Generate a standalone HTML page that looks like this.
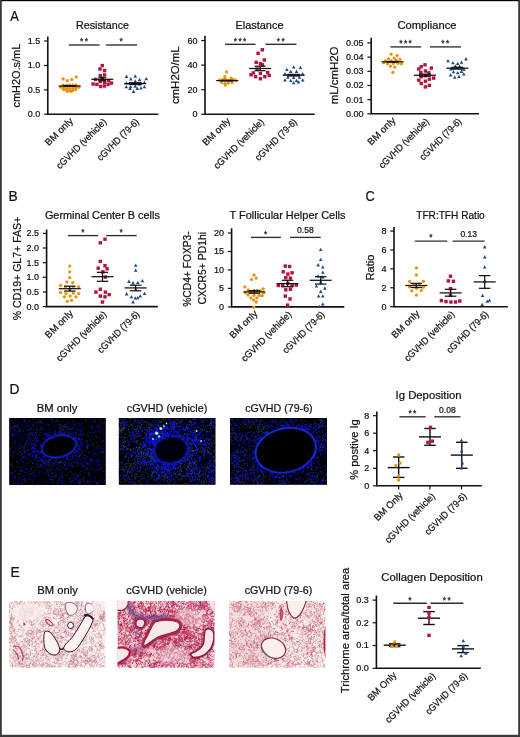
<!DOCTYPE html>
<html lang="en"><head><meta charset="utf-8"><title>Figure</title>
<style>html,body{margin:0;padding:0;background:#fff}svg{display:block;will-change:transform}</style></head>
<body>
<svg width="520" height="737" viewBox="0 0 520 737" font-family='"Liberation Sans", sans-serif' fill="#111">
<style>text{stroke:#111;stroke-width:0.22px;paint-order:stroke fill}</style>
<defs><filter id="b1" x="-20%" y="-20%" width="140%" height="140%"><feGaussianBlur stdDeviation="0.6"/></filter><filter id="b2" x="-20%" y="-20%" width="140%" height="140%"><feGaussianBlur stdDeviation="1.2"/></filter><filter id="b0" x="-5%" y="-5%" width="110%" height="110%"><feGaussianBlur stdDeviation="0.35"/></filter></defs>
<text x="10.2" y="21.1" font-size="13.8" text-anchor="start" textLength="8.6" lengthAdjust="spacingAndGlyphs">A</text>
<text x="8.6" y="201.2" font-size="13.8" text-anchor="start">B</text>
<text x="365.6" y="201.3" font-size="13.8" text-anchor="start" textLength="9.2" lengthAdjust="spacingAndGlyphs">C</text>
<text x="9.6" y="394.2" font-size="13.8" text-anchor="start">D</text>
<text x="10.4" y="576.8" font-size="13.8" text-anchor="start">E</text>
<path d="M47.8 37.3V114.2H157.5" fill="none" stroke="#111" stroke-width="1.6" stroke-linecap="square"/>
<line x1="44" y1="41" x2="47.8" y2="41" stroke="#111" stroke-width="1.2"/>
<text x="40.2" y="43.9" font-size="9.0" text-anchor="end">1.5</text>
<line x1="44" y1="65.5" x2="47.8" y2="65.5" stroke="#111" stroke-width="1.2"/>
<text x="40.2" y="68.4" font-size="9.0" text-anchor="end">1.0</text>
<line x1="44" y1="89.9" x2="47.8" y2="89.9" stroke="#111" stroke-width="1.2"/>
<text x="40.2" y="92.8" font-size="9.0" text-anchor="end">0.5</text>
<line x1="44" y1="114.2" x2="47.8" y2="114.2" stroke="#111" stroke-width="1.2"/>
<text x="40.2" y="117.1" font-size="9.0" text-anchor="end">0.0</text>
<text x="102.5" y="28.6" font-size="10.6" text-anchor="middle" textLength="53" lengthAdjust="spacingAndGlyphs">Resistance</text>
<text x="20.2" y="75.6" font-size="10.6" text-anchor="middle" transform="rotate(-90 20.2 75.6)" textLength="63.8" lengthAdjust="spacingAndGlyphs">cmH2O.s/mL</text>
<circle cx="63.1" cy="79" r="1.65" fill="#E8930C"/>
<circle cx="67.25" cy="80.6" r="1.65" fill="#E8930C"/>
<circle cx="71.9" cy="79.4" r="1.65" fill="#E8930C"/>
<circle cx="76.25" cy="76.9" r="1.65" fill="#E8930C"/>
<circle cx="63.2" cy="85.2" r="1.65" fill="#E8930C"/>
<circle cx="66.4" cy="85.2" r="1.65" fill="#E8930C"/>
<circle cx="69.6" cy="85.2" r="1.65" fill="#E8930C"/>
<circle cx="72.8" cy="85.2" r="1.65" fill="#E8930C"/>
<circle cx="76" cy="85.2" r="1.65" fill="#E8930C"/>
<circle cx="60.6" cy="87.13" r="1.65" fill="#E8930C"/>
<circle cx="63.6" cy="87.78" r="1.65" fill="#E8930C"/>
<circle cx="66.7" cy="88.17" r="1.65" fill="#E8930C"/>
<circle cx="69.7" cy="88.3" r="1.65" fill="#E8930C"/>
<circle cx="72.8" cy="88.16" r="1.65" fill="#E8930C"/>
<circle cx="75.8" cy="87.78" r="1.65" fill="#E8930C"/>
<circle cx="78.8" cy="87.13" r="1.65" fill="#E8930C"/>
<circle cx="63.6" cy="89.49" r="1.65" fill="#E8930C"/>
<circle cx="66.7" cy="90.33" r="1.65" fill="#E8930C"/>
<circle cx="69.7" cy="90.6" r="1.65" fill="#E8930C"/>
<circle cx="72.8" cy="90.31" r="1.65" fill="#E8930C"/>
<circle cx="75.8" cy="89.49" r="1.65" fill="#E8930C"/>
<circle cx="67.8" cy="91.3" r="1.65" fill="#E8930C"/>
<circle cx="71.4" cy="91.3" r="1.65" fill="#E8930C"/>
<rect x="100.55" y="63.9" width="3.4" height="3.4" fill="#B5123A"/>
<rect x="98.3" y="67.3" width="3.4" height="3.4" fill="#B5123A"/>
<rect x="102.9" y="68.9" width="3.4" height="3.4" fill="#B5123A"/>
<rect x="98.55" y="73.9" width="3.4" height="3.4" fill="#B5123A"/>
<rect x="102.9" y="73.3" width="3.4" height="3.4" fill="#B5123A"/>
<rect x="93.9" y="77.7" width="3.4" height="3.4" fill="#B5123A"/>
<rect x="98.55" y="79.8" width="3.4" height="3.4" fill="#B5123A"/>
<rect x="102.9" y="80.55" width="3.4" height="3.4" fill="#B5123A"/>
<rect x="107.05" y="78.9" width="3.4" height="3.4" fill="#B5123A"/>
<rect x="91.4" y="82.3" width="3.4" height="3.4" fill="#B5123A"/>
<rect x="95.2" y="82.7" width="3.4" height="3.4" fill="#B5123A"/>
<rect x="106.4" y="82.7" width="3.4" height="3.4" fill="#B5123A"/>
<rect x="109.8" y="81.4" width="3.4" height="3.4" fill="#B5123A"/>
<rect x="98.9" y="84.8" width="3.4" height="3.4" fill="#B5123A"/>
<rect x="102.7" y="84.3" width="3.4" height="3.4" fill="#B5123A"/>
<rect x="100.7" y="76.5" width="3.4" height="3.4" fill="#B5123A"/>
<path d="M126.5 74.6L128.3 77.9L124.7 77.9Z" fill="#1E4A8C"/>
<path d="M135.25 74.35L137.05 77.65L133.45 77.65Z" fill="#1E4A8C"/>
<path d="M130.9 77.1L132.7 80.4L129.1 80.4Z" fill="#1E4A8C"/>
<path d="M139.6 77.85L141.4 81.15L137.8 81.15Z" fill="#1E4A8C"/>
<path d="M146.25 76.85L148.05 80.15L144.45 80.15Z" fill="#1E4A8C"/>
<path d="M135.25 79.35L137.05 82.65L133.45 82.65Z" fill="#1E4A8C"/>
<path d="M126.5 81.2L128.3 84.5L124.7 84.5Z" fill="#1E4A8C"/>
<path d="M144.4 80.6L146.2 83.9L142.6 83.9Z" fill="#1E4A8C"/>
<path d="M139.6 82.1L141.4 85.4L137.8 85.4Z" fill="#1E4A8C"/>
<path d="M126.25 85L128.05 88.3L124.45 88.3Z" fill="#1E4A8C"/>
<path d="M130.6 85L132.4 88.3L128.8 88.3Z" fill="#1E4A8C"/>
<path d="M135.25 84.35L137.05 87.65L133.45 87.65Z" fill="#1E4A8C"/>
<path d="M144.4 85L146.2 88.3L142.6 88.3Z" fill="#1E4A8C"/>
<path d="M130 86.6L131.8 89.9L128.2 89.9Z" fill="#1E4A8C"/>
<path d="M137.25 86.6L139.05 89.9L135.45 89.9Z" fill="#1E4A8C"/>
<path d="M140.9 86.2L142.7 89.5L139.1 89.5Z" fill="#1E4A8C"/>
<path d="M133.5 89.6L135.3 92.9L131.7 92.9Z" fill="#1E4A8C"/>
<line x1="58.7" y1="86" x2="80.7" y2="86" stroke="#111" stroke-width="1.25"/>
<line x1="63.2" y1="85.7" x2="76.2" y2="85.7" stroke="#111" stroke-width="1.25"/>
<line x1="63.2" y1="86.3" x2="76.2" y2="86.3" stroke="#111" stroke-width="1.25"/>
<line x1="69.7" y1="85.7" x2="69.7" y2="86.3" stroke="#111" stroke-width="1.25"/>
<line x1="91.3" y1="79.3" x2="113.3" y2="79.3" stroke="#111" stroke-width="1.25"/>
<line x1="98.3" y1="77.8" x2="106.3" y2="77.8" stroke="#111" stroke-width="1.25"/>
<line x1="98.3" y1="80.7" x2="106.3" y2="80.7" stroke="#111" stroke-width="1.25"/>
<line x1="102.3" y1="77.8" x2="102.3" y2="80.7" stroke="#111" stroke-width="1.25"/>
<line x1="124.2" y1="83.6" x2="146.2" y2="83.6" stroke="#111" stroke-width="1.25"/>
<line x1="128.7" y1="82.7" x2="141.7" y2="82.7" stroke="#111" stroke-width="1.25"/>
<line x1="128.7" y1="84.5" x2="141.7" y2="84.5" stroke="#111" stroke-width="1.25"/>
<line x1="135.2" y1="82.7" x2="135.2" y2="84.5" stroke="#111" stroke-width="1.25"/>
<line x1="68.7" y1="45" x2="99.6" y2="45" stroke="#2e2e2e" stroke-width="1.35"/>
<text x="84.65" y="44.3" font-size="8.4" text-anchor="middle" letter-spacing="1.4" style="stroke:#2a2a2a;stroke-width:0.3px" fill="#2a2a2a">**</text>
<line x1="105.8" y1="45" x2="137" y2="45" stroke="#2e2e2e" stroke-width="1.35"/>
<text x="121.9" y="44.3" font-size="8.4" text-anchor="middle" letter-spacing="1.4" style="stroke:#2a2a2a;stroke-width:0.3px" fill="#2a2a2a">*</text>
<text x="73.6" y="121.5" font-size="9.6" text-anchor="end" transform="rotate(-45 73.6 121.5)" textLength="35" lengthAdjust="spacingAndGlyphs">BM only</text>
<text x="107.1" y="122.5" font-size="9.6" text-anchor="end" transform="rotate(-45 107.1 122.5)" textLength="66.5" lengthAdjust="spacingAndGlyphs">cGVHD (vehicle)</text>
<text x="139.6" y="122.5" font-size="9.6" text-anchor="end" transform="rotate(-45 139.6 122.5)" textLength="54.8" lengthAdjust="spacingAndGlyphs">cGVHD (79-6)</text>
<path d="M205 36.6V114.3H314" fill="none" stroke="#111" stroke-width="1.6" stroke-linecap="square"/>
<line x1="201.2" y1="40.6" x2="205" y2="40.6" stroke="#111" stroke-width="1.2"/>
<text x="197.4" y="43.5" font-size="9.0" text-anchor="end">60</text>
<line x1="201.2" y1="65.1" x2="205" y2="65.1" stroke="#111" stroke-width="1.2"/>
<text x="197.4" y="68" font-size="9.0" text-anchor="end">40</text>
<line x1="201.2" y1="89.7" x2="205" y2="89.7" stroke="#111" stroke-width="1.2"/>
<text x="197.4" y="92.6" font-size="9.0" text-anchor="end">20</text>
<line x1="201.2" y1="114.3" x2="205" y2="114.3" stroke="#111" stroke-width="1.2"/>
<text x="197.4" y="117.2" font-size="9.0" text-anchor="end">0</text>
<text x="259.5" y="28.6" font-size="10.6" text-anchor="middle" textLength="48" lengthAdjust="spacingAndGlyphs">Elastance</text>
<text x="178.8" y="75.2" font-size="10.6" text-anchor="middle" transform="rotate(-90 178.8 75.2)" textLength="57.8" lengthAdjust="spacingAndGlyphs">cmH2O/mL</text>
<circle cx="226.7" cy="71.9" r="1.65" fill="#E8930C"/>
<circle cx="224.8" cy="76.7" r="1.65" fill="#E8930C"/>
<circle cx="231.2" cy="78.1" r="1.65" fill="#E8930C"/>
<circle cx="219.6" cy="80.2" r="1.65" fill="#E8930C"/>
<circle cx="222.5" cy="79.6" r="1.65" fill="#E8930C"/>
<circle cx="225.4" cy="79.2" r="1.65" fill="#E8930C"/>
<circle cx="228.3" cy="80.6" r="1.65" fill="#E8930C"/>
<circle cx="231.2" cy="80" r="1.65" fill="#E8930C"/>
<circle cx="234" cy="79.6" r="1.65" fill="#E8930C"/>
<circle cx="236" cy="80.6" r="1.65" fill="#E8930C"/>
<circle cx="221.5" cy="82.5" r="1.65" fill="#E8930C"/>
<circle cx="225" cy="83.5" r="1.65" fill="#E8930C"/>
<circle cx="228.3" cy="83" r="1.65" fill="#E8930C"/>
<circle cx="232.1" cy="82.5" r="1.65" fill="#E8930C"/>
<circle cx="225.4" cy="85" r="1.65" fill="#E8930C"/>
<rect x="260.6" y="48.1" width="3.4" height="3.4" fill="#B5123A"/>
<rect x="256.4" y="51.6" width="3.4" height="3.4" fill="#B5123A"/>
<rect x="262.7" y="58.3" width="3.4" height="3.4" fill="#B5123A"/>
<rect x="254.5" y="60.6" width="3.4" height="3.4" fill="#B5123A"/>
<rect x="258.7" y="62" width="3.4" height="3.4" fill="#B5123A"/>
<rect x="260.6" y="63.1" width="3.4" height="3.4" fill="#B5123A"/>
<rect x="255.4" y="67.3" width="3.4" height="3.4" fill="#B5123A"/>
<rect x="251.6" y="71.2" width="3.4" height="3.4" fill="#B5123A"/>
<rect x="258.7" y="71.8" width="3.4" height="3.4" fill="#B5123A"/>
<rect x="266" y="70.8" width="3.4" height="3.4" fill="#B5123A"/>
<rect x="249.3" y="73.1" width="3.4" height="3.4" fill="#B5123A"/>
<rect x="267.5" y="73.7" width="3.4" height="3.4" fill="#B5123A"/>
<rect x="253.9" y="75" width="3.4" height="3.4" fill="#B5123A"/>
<rect x="263.1" y="75" width="3.4" height="3.4" fill="#B5123A"/>
<rect x="258.7" y="77" width="3.4" height="3.4" fill="#B5123A"/>
<path d="M293.7 65.2L295.5 68.5L291.9 68.5Z" fill="#1E4A8C"/>
<path d="M300.4 65.8L302.2 69.1L298.6 69.1Z" fill="#1E4A8C"/>
<path d="M286.9 67.7L288.7 71L285.1 71Z" fill="#1E4A8C"/>
<path d="M290.8 69.6L292.6 72.9L289 72.9Z" fill="#1E4A8C"/>
<path d="M296.5 69.6L298.3 72.9L294.7 72.9Z" fill="#1E4A8C"/>
<path d="M285 71.9L286.8 75.2L283.2 75.2Z" fill="#1E4A8C"/>
<path d="M302.7 71.9L304.5 75.2L300.9 75.2Z" fill="#1E4A8C"/>
<path d="M287.9 75.4L289.7 78.7L286.1 78.7Z" fill="#1E4A8C"/>
<path d="M293.7 75.8L295.5 79.1L291.9 79.1Z" fill="#1E4A8C"/>
<path d="M299.4 75.4L301.2 78.7L297.6 78.7Z" fill="#1E4A8C"/>
<path d="M285 78.3L286.8 81.6L283.2 81.6Z" fill="#1E4A8C"/>
<path d="M290.8 78.7L292.6 82L289 82Z" fill="#1E4A8C"/>
<path d="M296.5 78.7L298.3 82L294.7 82Z" fill="#1E4A8C"/>
<path d="M302.7 78.3L304.5 81.6L300.9 81.6Z" fill="#1E4A8C"/>
<path d="M293.7 81L295.5 84.3L291.9 84.3Z" fill="#1E4A8C"/>
<path d="M298.5 80.2L300.3 83.5L296.7 83.5Z" fill="#1E4A8C"/>
<line x1="216.2" y1="80.6" x2="238.2" y2="80.6" stroke="#111" stroke-width="1.25"/>
<line x1="221.2" y1="80.3" x2="233.2" y2="80.3" stroke="#111" stroke-width="1.25"/>
<line x1="221.2" y1="80.9" x2="233.2" y2="80.9" stroke="#111" stroke-width="1.25"/>
<line x1="227.2" y1="80.3" x2="227.2" y2="80.9" stroke="#111" stroke-width="1.25"/>
<line x1="249.1" y1="68.5" x2="271.1" y2="68.5" stroke="#111" stroke-width="1.25"/>
<line x1="254.6" y1="66.2" x2="265.6" y2="66.2" stroke="#111" stroke-width="1.25"/>
<line x1="254.6" y1="70.7" x2="265.6" y2="70.7" stroke="#111" stroke-width="1.25"/>
<line x1="260.1" y1="66.2" x2="260.1" y2="70.7" stroke="#111" stroke-width="1.25"/>
<line x1="282.7" y1="75.2" x2="304.7" y2="75.2" stroke="#111" stroke-width="1.25"/>
<line x1="287.2" y1="74.4" x2="300.2" y2="74.4" stroke="#111" stroke-width="1.25"/>
<line x1="287.2" y1="76" x2="300.2" y2="76" stroke="#111" stroke-width="1.25"/>
<line x1="293.7" y1="74.4" x2="293.7" y2="76" stroke="#111" stroke-width="1.25"/>
<line x1="225" y1="44.3" x2="255.6" y2="44.3" stroke="#2e2e2e" stroke-width="1.35"/>
<text x="240.8" y="43.6" font-size="8.4" text-anchor="middle" letter-spacing="1.4" style="stroke:#2a2a2a;stroke-width:0.3px" fill="#2a2a2a">***</text>
<line x1="265.4" y1="44.3" x2="296.5" y2="44.3" stroke="#2e2e2e" stroke-width="1.35"/>
<text x="281.45" y="43.6" font-size="8.4" text-anchor="middle" letter-spacing="1.4" style="stroke:#2a2a2a;stroke-width:0.3px" fill="#2a2a2a">**</text>
<text x="230.9" y="121.6" font-size="9.6" text-anchor="end" transform="rotate(-45 230.9 121.6)" textLength="35" lengthAdjust="spacingAndGlyphs">BM only</text>
<text x="264.6" y="122.6" font-size="9.6" text-anchor="end" transform="rotate(-45 264.6 122.6)" textLength="66.5" lengthAdjust="spacingAndGlyphs">cGVHD (vehicle)</text>
<text x="297.6" y="122.6" font-size="9.6" text-anchor="end" transform="rotate(-45 297.6 122.6)" textLength="54.8" lengthAdjust="spacingAndGlyphs">cGVHD (79-6)</text>
<path d="M371.2 38.6V113.8H478.2" fill="none" stroke="#111" stroke-width="1.6" stroke-linecap="square"/>
<line x1="367.4" y1="42.9" x2="371.2" y2="42.9" stroke="#111" stroke-width="1.2"/>
<text x="363.6" y="45.8" font-size="9.0" text-anchor="end">0.05</text>
<line x1="367.4" y1="57.1" x2="371.2" y2="57.1" stroke="#111" stroke-width="1.2"/>
<text x="363.6" y="60" font-size="9.0" text-anchor="end">0.04</text>
<line x1="367.4" y1="71.3" x2="371.2" y2="71.3" stroke="#111" stroke-width="1.2"/>
<text x="363.6" y="74.2" font-size="9.0" text-anchor="end">0.03</text>
<line x1="367.4" y1="85.5" x2="371.2" y2="85.5" stroke="#111" stroke-width="1.2"/>
<text x="363.6" y="88.4" font-size="9.0" text-anchor="end">0.02</text>
<line x1="367.4" y1="99.7" x2="371.2" y2="99.7" stroke="#111" stroke-width="1.2"/>
<text x="363.6" y="102.6" font-size="9.0" text-anchor="end">0.01</text>
<line x1="367.4" y1="113.8" x2="371.2" y2="113.8" stroke="#111" stroke-width="1.2"/>
<text x="363.6" y="116.7" font-size="9.0" text-anchor="end">0.00</text>
<text x="427" y="28.6" font-size="10.6" text-anchor="middle" textLength="59" lengthAdjust="spacingAndGlyphs">Compliance</text>
<text x="338.4" y="75.4" font-size="10.6" text-anchor="middle" transform="rotate(-90 338.4 75.4)" textLength="57.8" lengthAdjust="spacingAndGlyphs">mL/cmH2O</text>
<circle cx="391" cy="54.2" r="1.65" fill="#E8930C"/>
<circle cx="397.1" cy="55.6" r="1.65" fill="#E8930C"/>
<circle cx="394.2" cy="58.1" r="1.65" fill="#E8930C"/>
<circle cx="388.5" cy="58.8" r="1.65" fill="#E8930C"/>
<circle cx="400" cy="59.4" r="1.65" fill="#E8930C"/>
<circle cx="385.6" cy="60.8" r="1.65" fill="#E8930C"/>
<circle cx="391.3" cy="60.8" r="1.65" fill="#E8930C"/>
<circle cx="396.2" cy="60.4" r="1.65" fill="#E8930C"/>
<circle cx="383.7" cy="62.7" r="1.65" fill="#E8930C"/>
<circle cx="387.5" cy="63.7" r="1.65" fill="#E8930C"/>
<circle cx="393.3" cy="63.3" r="1.65" fill="#E8930C"/>
<circle cx="398.1" cy="63.3" r="1.65" fill="#E8930C"/>
<circle cx="401.5" cy="63.7" r="1.65" fill="#E8930C"/>
<circle cx="390.4" cy="66.2" r="1.65" fill="#E8930C"/>
<circle cx="394.8" cy="67.1" r="1.65" fill="#E8930C"/>
<circle cx="392.9" cy="72.5" r="1.65" fill="#E8930C"/>
<rect x="423.3" y="63.1" width="3.4" height="3.4" fill="#B5123A"/>
<rect x="419.5" y="65" width="3.4" height="3.4" fill="#B5123A"/>
<rect x="417.1" y="67.3" width="3.4" height="3.4" fill="#B5123A"/>
<rect x="429.6" y="66.4" width="3.4" height="3.4" fill="#B5123A"/>
<rect x="423.7" y="69.3" width="3.4" height="3.4" fill="#B5123A"/>
<rect x="419.1" y="70.8" width="3.4" height="3.4" fill="#B5123A"/>
<rect x="427.1" y="71.2" width="3.4" height="3.4" fill="#B5123A"/>
<rect x="423.7" y="74.1" width="3.4" height="3.4" fill="#B5123A"/>
<rect x="419.5" y="75" width="3.4" height="3.4" fill="#B5123A"/>
<rect x="427.7" y="77.5" width="3.4" height="3.4" fill="#B5123A"/>
<rect x="432" y="76.4" width="3.4" height="3.4" fill="#B5123A"/>
<rect x="417.1" y="78.5" width="3.4" height="3.4" fill="#B5123A"/>
<rect x="423.7" y="79.5" width="3.4" height="3.4" fill="#B5123A"/>
<rect x="419.5" y="81.8" width="3.4" height="3.4" fill="#B5123A"/>
<rect x="427.7" y="83.7" width="3.4" height="3.4" fill="#B5123A"/>
<rect x="423.7" y="85.2" width="3.4" height="3.4" fill="#B5123A"/>
<path d="M466 57.1L467.8 60.4L464.2 60.4Z" fill="#1E4A8C"/>
<path d="M448 58.9L449.8 62.2L446.2 62.2Z" fill="#1E4A8C"/>
<path d="M452.9 61L454.7 64.3L451.1 64.3Z" fill="#1E4A8C"/>
<path d="M457.7 61.8L459.5 65.1L455.9 65.1Z" fill="#1E4A8C"/>
<path d="M461.5 60.4L463.3 63.7L459.7 63.7Z" fill="#1E4A8C"/>
<path d="M455.4 64.3L457.2 67.6L453.6 67.6Z" fill="#1E4A8C"/>
<path d="M459.6 64.6L461.4 67.9L457.8 67.9Z" fill="#1E4A8C"/>
<path d="M451 67.1L452.8 70.4L449.2 70.4Z" fill="#1E4A8C"/>
<path d="M464 67.7L465.8 71L462.2 71Z" fill="#1E4A8C"/>
<path d="M453.5 70L455.3 73.3L451.7 73.3Z" fill="#1E4A8C"/>
<path d="M461.5 69.6L463.3 72.9L459.7 72.9Z" fill="#1E4A8C"/>
<path d="M457.7 71L459.5 74.3L455.9 74.3Z" fill="#1E4A8C"/>
<path d="M450.6 73.3L452.4 76.6L448.8 76.6Z" fill="#1E4A8C"/>
<path d="M463.8 72.3L465.6 75.6L462 75.6Z" fill="#1E4A8C"/>
<path d="M454.8 75.4L456.6 78.7L453 78.7Z" fill="#1E4A8C"/>
<path d="M459 74.8L460.8 78.1L457.2 78.1Z" fill="#1E4A8C"/>
<line x1="381.6" y1="61.8" x2="403.6" y2="61.8" stroke="#111" stroke-width="1.25"/>
<line x1="386.6" y1="61.5" x2="398.6" y2="61.5" stroke="#111" stroke-width="1.25"/>
<line x1="386.6" y1="62.1" x2="398.6" y2="62.1" stroke="#111" stroke-width="1.25"/>
<line x1="392.6" y1="61.5" x2="392.6" y2="62.1" stroke="#111" stroke-width="1.25"/>
<line x1="414" y1="75.2" x2="436" y2="75.2" stroke="#111" stroke-width="1.25"/>
<line x1="419" y1="74.2" x2="431" y2="74.2" stroke="#111" stroke-width="1.25"/>
<line x1="419" y1="76.2" x2="431" y2="76.2" stroke="#111" stroke-width="1.25"/>
<line x1="425" y1="74.2" x2="425" y2="76.2" stroke="#111" stroke-width="1.25"/>
<line x1="446.4" y1="68.2" x2="468.4" y2="68.2" stroke="#111" stroke-width="1.25"/>
<line x1="451.4" y1="67.3" x2="463.4" y2="67.3" stroke="#111" stroke-width="1.25"/>
<line x1="451.4" y1="69.1" x2="463.4" y2="69.1" stroke="#111" stroke-width="1.25"/>
<line x1="457.4" y1="67.3" x2="457.4" y2="69.1" stroke="#111" stroke-width="1.25"/>
<line x1="390.4" y1="46.9" x2="421.2" y2="46.9" stroke="#2e2e2e" stroke-width="1.35"/>
<text x="406.3" y="46.2" font-size="8.4" text-anchor="middle" letter-spacing="1.4" style="stroke:#2a2a2a;stroke-width:0.3px" fill="#2a2a2a">***</text>
<line x1="430" y1="46.9" x2="461" y2="46.9" stroke="#2e2e2e" stroke-width="1.35"/>
<text x="446" y="46.2" font-size="8.4" text-anchor="middle" letter-spacing="1.4" style="stroke:#2a2a2a;stroke-width:0.3px" fill="#2a2a2a">**</text>
<text x="396.1" y="121.1" font-size="9.6" text-anchor="end" transform="rotate(-45 396.1 121.1)" textLength="35" lengthAdjust="spacingAndGlyphs">BM only</text>
<text x="429.6" y="122.1" font-size="9.6" text-anchor="end" transform="rotate(-45 429.6 122.1)" textLength="66.5" lengthAdjust="spacingAndGlyphs">cGVHD (vehicle)</text>
<text x="462.1" y="122.1" font-size="9.6" text-anchor="end" transform="rotate(-45 462.1 122.1)" textLength="54.8" lengthAdjust="spacingAndGlyphs">cGVHD (79-6)</text>
<path d="M46.6 230.4V306.6H157" fill="none" stroke="#111" stroke-width="1.6" stroke-linecap="square"/>
<line x1="42.8" y1="233.4" x2="46.6" y2="233.4" stroke="#111" stroke-width="1.2"/>
<text x="39" y="236.3" font-size="9.0" text-anchor="end">2.5</text>
<line x1="42.8" y1="248" x2="46.6" y2="248" stroke="#111" stroke-width="1.2"/>
<text x="39" y="250.9" font-size="9.0" text-anchor="end">2.0</text>
<line x1="42.8" y1="262.7" x2="46.6" y2="262.7" stroke="#111" stroke-width="1.2"/>
<text x="39" y="265.6" font-size="9.0" text-anchor="end">1.5</text>
<line x1="42.8" y1="277.3" x2="46.6" y2="277.3" stroke="#111" stroke-width="1.2"/>
<text x="39" y="280.2" font-size="9.0" text-anchor="end">1.0</text>
<line x1="42.8" y1="292" x2="46.6" y2="292" stroke="#111" stroke-width="1.2"/>
<text x="39" y="294.9" font-size="9.0" text-anchor="end">0.5</text>
<line x1="42.8" y1="306.6" x2="46.6" y2="306.6" stroke="#111" stroke-width="1.2"/>
<text x="39" y="309.5" font-size="9.0" text-anchor="end">0.0</text>
<text x="102.4" y="218.6" font-size="10.6" text-anchor="middle" textLength="115" lengthAdjust="spacingAndGlyphs">Germinal Center B cells</text>
<text x="20.6" y="268.5" font-size="10.6" text-anchor="middle" transform="rotate(-90 20.6 268.5)" textLength="103.5" lengthAdjust="spacingAndGlyphs">% CD19+ GL7+ FAS+</text>
<circle cx="69.7" cy="266.1" r="1.65" fill="#E8930C"/>
<circle cx="69.7" cy="271.8" r="1.65" fill="#E8930C"/>
<circle cx="69.7" cy="277.7" r="1.65" fill="#E8930C"/>
<circle cx="66.9" cy="281.9" r="1.65" fill="#E8930C"/>
<circle cx="72.8" cy="282.6" r="1.65" fill="#E8930C"/>
<circle cx="60.6" cy="285.5" r="1.65" fill="#E8930C"/>
<circle cx="65.4" cy="286.8" r="1.65" fill="#E8930C"/>
<circle cx="73.3" cy="286.8" r="1.65" fill="#E8930C"/>
<circle cx="78.6" cy="286.8" r="1.65" fill="#E8930C"/>
<circle cx="69.7" cy="289.3" r="1.65" fill="#E8930C"/>
<circle cx="60.6" cy="292.5" r="1.65" fill="#E8930C"/>
<circle cx="65.9" cy="293.6" r="1.65" fill="#E8930C"/>
<circle cx="73.3" cy="293.2" r="1.65" fill="#E8930C"/>
<circle cx="78.6" cy="293.6" r="1.65" fill="#E8930C"/>
<circle cx="64.4" cy="296.8" r="1.65" fill="#E8930C"/>
<circle cx="70.1" cy="296.1" r="1.65" fill="#E8930C"/>
<circle cx="76" cy="296.8" r="1.65" fill="#E8930C"/>
<circle cx="67.3" cy="301.4" r="1.65" fill="#E8930C"/>
<circle cx="71.6" cy="300.4" r="1.65" fill="#E8930C"/>
<rect x="103.3" y="237.5" width="3.4" height="3.4" fill="#B5123A"/>
<rect x="98.6" y="241.1" width="3.4" height="3.4" fill="#B5123A"/>
<rect x="98.6" y="259.7" width="3.4" height="3.4" fill="#B5123A"/>
<rect x="103.3" y="264" width="3.4" height="3.4" fill="#B5123A"/>
<rect x="96.5" y="266.5" width="3.4" height="3.4" fill="#B5123A"/>
<rect x="105.4" y="267.1" width="3.4" height="3.4" fill="#B5123A"/>
<rect x="101.2" y="270.1" width="3.4" height="3.4" fill="#B5123A"/>
<rect x="103.7" y="275.4" width="3.4" height="3.4" fill="#B5123A"/>
<rect x="98.6" y="287.6" width="3.4" height="3.4" fill="#B5123A"/>
<rect x="94.2" y="290.4" width="3.4" height="3.4" fill="#B5123A"/>
<rect x="103.7" y="290.4" width="3.4" height="3.4" fill="#B5123A"/>
<rect x="98.6" y="294.4" width="3.4" height="3.4" fill="#B5123A"/>
<rect x="107.5" y="292.9" width="3.4" height="3.4" fill="#B5123A"/>
<rect x="103.3" y="295.1" width="3.4" height="3.4" fill="#B5123A"/>
<rect x="100.8" y="300.3" width="3.4" height="3.4" fill="#B5123A"/>
<path d="M135.7 263.5L137.5 266.8L133.9 266.8Z" fill="#1E4A8C"/>
<path d="M135.7 268.4L137.5 271.7L133.9 271.7Z" fill="#1E4A8C"/>
<path d="M128.9 279.6L130.7 282.9L127.1 282.9Z" fill="#1E4A8C"/>
<path d="M142.4 279L144.2 282.3L140.6 282.3Z" fill="#1E4A8C"/>
<path d="M133.1 281.1L134.9 284.4L131.3 284.4Z" fill="#1E4A8C"/>
<path d="M137.8 280.7L139.6 284L136 284Z" fill="#1E4A8C"/>
<path d="M135.7 287.4L137.5 290.7L133.9 290.7Z" fill="#1E4A8C"/>
<path d="M126.6 292.1L128.4 295.4L124.8 295.4Z" fill="#1E4A8C"/>
<path d="M144.6 291.7L146.4 295L142.8 295Z" fill="#1E4A8C"/>
<path d="M131.4 294.9L133.2 298.2L129.6 298.2Z" fill="#1E4A8C"/>
<path d="M140.3 294.2L142.1 297.5L138.5 297.5Z" fill="#1E4A8C"/>
<path d="M135.3 296.3L137.1 299.6L133.5 299.6Z" fill="#1E4A8C"/>
<path d="M137.8 295.9L139.6 299.2L136 299.2Z" fill="#1E4A8C"/>
<path d="M133.1 300.1L134.9 303.4L131.3 303.4Z" fill="#1E4A8C"/>
<line x1="58.8" y1="288.7" x2="80.8" y2="288.7" stroke="#111" stroke-width="1.25"/>
<line x1="64.05" y1="286.2" x2="75.55" y2="286.2" stroke="#111" stroke-width="1.25"/>
<line x1="64.05" y1="291.1" x2="75.55" y2="291.1" stroke="#111" stroke-width="1.25"/>
<line x1="69.8" y1="286.2" x2="69.8" y2="291.1" stroke="#111" stroke-width="1.25"/>
<line x1="91.5" y1="276.7" x2="113.5" y2="276.7" stroke="#111" stroke-width="1.25"/>
<line x1="96.75" y1="272.3" x2="108.25" y2="272.3" stroke="#111" stroke-width="1.25"/>
<line x1="96.75" y1="281.3" x2="108.25" y2="281.3" stroke="#111" stroke-width="1.25"/>
<line x1="102.5" y1="272.3" x2="102.5" y2="281.3" stroke="#111" stroke-width="1.25"/>
<line x1="124.6" y1="287.9" x2="146.6" y2="287.9" stroke="#111" stroke-width="1.25"/>
<line x1="129.85" y1="285.2" x2="141.35" y2="285.2" stroke="#111" stroke-width="1.25"/>
<line x1="129.85" y1="290.8" x2="141.35" y2="290.8" stroke="#111" stroke-width="1.25"/>
<line x1="135.6" y1="285.2" x2="135.6" y2="290.8" stroke="#111" stroke-width="1.25"/>
<line x1="67.8" y1="235.6" x2="98.2" y2="235.6" stroke="#2e2e2e" stroke-width="1.35"/>
<text x="83.5" y="234.9" font-size="8.4" text-anchor="middle" letter-spacing="1.4" style="stroke:#2a2a2a;stroke-width:0.3px" fill="#2a2a2a">*</text>
<line x1="106.2" y1="235.6" x2="136.7" y2="235.6" stroke="#2e2e2e" stroke-width="1.35"/>
<text x="121.95" y="234.9" font-size="8.4" text-anchor="middle" letter-spacing="1.4" style="stroke:#2a2a2a;stroke-width:0.3px" fill="#2a2a2a">*</text>
<text x="73.6" y="313.9" font-size="9.6" text-anchor="end" transform="rotate(-45 73.6 313.9)" textLength="35" lengthAdjust="spacingAndGlyphs">BM only</text>
<text x="107.1" y="314.9" font-size="9.6" text-anchor="end" transform="rotate(-45 107.1 314.9)" textLength="66.5" lengthAdjust="spacingAndGlyphs">cGVHD (vehicle)</text>
<text x="140.1" y="314.9" font-size="9.6" text-anchor="end" transform="rotate(-45 140.1 314.9)" textLength="54.8" lengthAdjust="spacingAndGlyphs">cGVHD (79-6)</text>
<path d="M231.6 229V306.9H343.5" fill="none" stroke="#111" stroke-width="1.6" stroke-linecap="square"/>
<line x1="227.8" y1="233" x2="231.6" y2="233" stroke="#111" stroke-width="1.2"/>
<text x="224" y="235.9" font-size="9.0" text-anchor="end">20</text>
<line x1="227.8" y1="251.5" x2="231.6" y2="251.5" stroke="#111" stroke-width="1.2"/>
<text x="224" y="254.4" font-size="9.0" text-anchor="end">15</text>
<line x1="227.8" y1="269.9" x2="231.6" y2="269.9" stroke="#111" stroke-width="1.2"/>
<text x="224" y="272.8" font-size="9.0" text-anchor="end">10</text>
<line x1="227.8" y1="288.4" x2="231.6" y2="288.4" stroke="#111" stroke-width="1.2"/>
<text x="224" y="291.3" font-size="9.0" text-anchor="end">5</text>
<line x1="227.8" y1="306.9" x2="231.6" y2="306.9" stroke="#111" stroke-width="1.2"/>
<text x="224" y="309.8" font-size="9.0" text-anchor="end">0</text>
<text x="287.5" y="218.6" font-size="10.6" text-anchor="middle" textLength="116" lengthAdjust="spacingAndGlyphs">T Follicular Helper Cells</text>
<text x="191.4" y="269" font-size="10.6" text-anchor="middle" transform="rotate(-90 191.4 269)" textLength="75.5" lengthAdjust="spacingAndGlyphs">%CD4+ FOXP3-</text>
<text x="205.8" y="268.2" font-size="10.6" text-anchor="middle" transform="rotate(-90 205.8 268.2)" textLength="72.6" lengthAdjust="spacingAndGlyphs">CXCR5+ PD1hi</text>
<circle cx="254" cy="275" r="1.65" fill="#E8930C"/>
<circle cx="251.5" cy="279.4" r="1.65" fill="#E8930C"/>
<circle cx="256.2" cy="278.1" r="1.65" fill="#E8930C"/>
<circle cx="244.9" cy="286.8" r="1.65" fill="#E8930C"/>
<circle cx="263.1" cy="288.9" r="1.65" fill="#E8930C"/>
<circle cx="248.1" cy="290" r="1.65" fill="#E8930C"/>
<circle cx="254" cy="290.4" r="1.65" fill="#E8930C"/>
<circle cx="257.2" cy="290.4" r="1.65" fill="#E8930C"/>
<circle cx="260.4" cy="290.8" r="1.65" fill="#E8930C"/>
<circle cx="245.6" cy="292.9" r="1.65" fill="#E8930C"/>
<circle cx="250.9" cy="292.5" r="1.65" fill="#E8930C"/>
<circle cx="263.6" cy="292.9" r="1.65" fill="#E8930C"/>
<circle cx="248.1" cy="295.1" r="1.65" fill="#E8930C"/>
<circle cx="254" cy="295.3" r="1.65" fill="#E8930C"/>
<circle cx="259.3" cy="295.3" r="1.65" fill="#E8930C"/>
<circle cx="262.1" cy="295.7" r="1.65" fill="#E8930C"/>
<circle cx="250.9" cy="297.8" r="1.65" fill="#E8930C"/>
<circle cx="256.8" cy="297.8" r="1.65" fill="#E8930C"/>
<circle cx="253.6" cy="299.9" r="1.65" fill="#E8930C"/>
<circle cx="256.2" cy="302" r="1.65" fill="#E8930C"/>
<circle cx="254" cy="307.3" r="1.65" fill="#E8930C"/>
<rect x="283.6" y="264.4" width="3.4" height="3.4" fill="#B5123A"/>
<rect x="287.9" y="264.8" width="3.4" height="3.4" fill="#B5123A"/>
<rect x="281.5" y="270.1" width="3.4" height="3.4" fill="#B5123A"/>
<rect x="290.4" y="271.1" width="3.4" height="3.4" fill="#B5123A"/>
<rect x="286.2" y="272.4" width="3.4" height="3.4" fill="#B5123A"/>
<rect x="284.1" y="276" width="3.4" height="3.4" fill="#B5123A"/>
<rect x="288.7" y="276.4" width="3.4" height="3.4" fill="#B5123A"/>
<rect x="286.2" y="281.7" width="3.4" height="3.4" fill="#B5123A"/>
<rect x="276.7" y="283.8" width="3.4" height="3.4" fill="#B5123A"/>
<rect x="280.9" y="283.8" width="3.4" height="3.4" fill="#B5123A"/>
<rect x="290.4" y="283.8" width="3.4" height="3.4" fill="#B5123A"/>
<rect x="294.6" y="283.4" width="3.4" height="3.4" fill="#B5123A"/>
<rect x="284.1" y="288.1" width="3.4" height="3.4" fill="#B5123A"/>
<rect x="288.7" y="287.6" width="3.4" height="3.4" fill="#B5123A"/>
<rect x="283.6" y="294.4" width="3.4" height="3.4" fill="#B5123A"/>
<rect x="288.3" y="297.2" width="3.4" height="3.4" fill="#B5123A"/>
<rect x="285.8" y="303.5" width="3.4" height="3.4" fill="#B5123A"/>
<path d="M320.7 247.7L322.5 251L318.9 251Z" fill="#1E4A8C"/>
<path d="M320.7 257.8L322.5 261.1L318.9 261.1Z" fill="#1E4A8C"/>
<path d="M318.1 263.1L319.9 266.4L316.3 266.4Z" fill="#1E4A8C"/>
<path d="M322.8 265.2L324.6 268.5L321 268.5Z" fill="#1E4A8C"/>
<path d="M322.8 270.5L324.6 273.8L321 273.8Z" fill="#1E4A8C"/>
<path d="M318.1 274.3L319.9 277.6L316.3 277.6Z" fill="#1E4A8C"/>
<path d="M322.8 275.2L324.6 278.5L321 278.5Z" fill="#1E4A8C"/>
<path d="M320.7 280.1L322.5 283.4L318.9 283.4Z" fill="#1E4A8C"/>
<path d="M316.4 284.3L318.2 287.6L314.6 287.6Z" fill="#1E4A8C"/>
<path d="M324.9 286.4L326.7 289.7L323.1 289.7Z" fill="#1E4A8C"/>
<path d="M320.7 289.6L322.5 292.9L318.9 292.9Z" fill="#1E4A8C"/>
<path d="M322.8 294.2L324.6 297.5L321 297.5Z" fill="#1E4A8C"/>
<path d="M318.6 294.2L320.4 297.5L316.8 297.5Z" fill="#1E4A8C"/>
<path d="M322.8 302.3L324.6 305.6L321 305.6Z" fill="#1E4A8C"/>
<path d="M319.6 304.8L321.4 308.1L317.8 308.1Z" fill="#1E4A8C"/>
<line x1="243.3" y1="291.9" x2="265.3" y2="291.9" stroke="#111" stroke-width="1.25"/>
<line x1="248.55" y1="290.6" x2="260.05" y2="290.6" stroke="#111" stroke-width="1.25"/>
<line x1="248.55" y1="293.2" x2="260.05" y2="293.2" stroke="#111" stroke-width="1.25"/>
<line x1="254.3" y1="290.6" x2="254.3" y2="293.2" stroke="#111" stroke-width="1.25"/>
<line x1="276.5" y1="283.6" x2="298.5" y2="283.6" stroke="#111" stroke-width="1.25"/>
<line x1="281.75" y1="280.3" x2="293.25" y2="280.3" stroke="#111" stroke-width="1.25"/>
<line x1="281.75" y1="286.7" x2="293.25" y2="286.7" stroke="#111" stroke-width="1.25"/>
<line x1="287.5" y1="280.3" x2="287.5" y2="286.7" stroke="#111" stroke-width="1.25"/>
<line x1="309.7" y1="280.3" x2="331.7" y2="280.3" stroke="#111" stroke-width="1.25"/>
<line x1="314.95" y1="276.7" x2="326.45" y2="276.7" stroke="#111" stroke-width="1.25"/>
<line x1="314.95" y1="284.1" x2="326.45" y2="284.1" stroke="#111" stroke-width="1.25"/>
<line x1="320.7" y1="276.7" x2="320.7" y2="284.1" stroke="#111" stroke-width="1.25"/>
<line x1="250.9" y1="237.4" x2="280.9" y2="237.4" stroke="#2e2e2e" stroke-width="1.35"/>
<text x="266.4" y="236.7" font-size="8.4" text-anchor="middle" letter-spacing="1.4" style="stroke:#2a2a2a;stroke-width:0.3px" fill="#2a2a2a">*</text>
<line x1="290" y1="237.4" x2="320.7" y2="237.4" stroke="#2e2e2e" stroke-width="1.35"/>
<text x="305.35" y="233.3" font-size="8.5" text-anchor="middle">0.58</text>
<text x="258.1" y="314.2" font-size="9.6" text-anchor="end" transform="rotate(-45 258.1 314.2)" textLength="35" lengthAdjust="spacingAndGlyphs">BM only</text>
<text x="292.1" y="315.2" font-size="9.6" text-anchor="end" transform="rotate(-45 292.1 315.2)" textLength="66.5" lengthAdjust="spacingAndGlyphs">cGVHD (vehicle)</text>
<text x="325.1" y="315.2" font-size="9.6" text-anchor="end" transform="rotate(-45 325.1 315.2)" textLength="54.8" lengthAdjust="spacingAndGlyphs">cGVHD (79-6)</text>
<path d="M394 227.8V306.7H507" fill="none" stroke="#111" stroke-width="1.6" stroke-linecap="square"/>
<line x1="390.2" y1="231.1" x2="394" y2="231.1" stroke="#111" stroke-width="1.2"/>
<text x="386.4" y="234" font-size="9.0" text-anchor="end">8</text>
<line x1="390.2" y1="250" x2="394" y2="250" stroke="#111" stroke-width="1.2"/>
<text x="386.4" y="252.9" font-size="9.0" text-anchor="end">6</text>
<line x1="390.2" y1="268.9" x2="394" y2="268.9" stroke="#111" stroke-width="1.2"/>
<text x="386.4" y="271.8" font-size="9.0" text-anchor="end">4</text>
<line x1="390.2" y1="287.8" x2="394" y2="287.8" stroke="#111" stroke-width="1.2"/>
<text x="386.4" y="290.7" font-size="9.0" text-anchor="end">2</text>
<line x1="390.2" y1="306.7" x2="394" y2="306.7" stroke="#111" stroke-width="1.2"/>
<text x="386.4" y="309.6" font-size="9.0" text-anchor="end">0</text>
<text x="450.5" y="218.6" font-size="10.6" text-anchor="middle" textLength="68.5" lengthAdjust="spacingAndGlyphs">TFR:TFH Ratio</text>
<text x="373.6" y="267.6" font-size="10.6" text-anchor="middle" transform="rotate(-90 373.6 267.6)" textLength="26" lengthAdjust="spacingAndGlyphs">Ratio</text>
<circle cx="416.4" cy="267.8" r="1.65" fill="#E8930C"/>
<circle cx="416.4" cy="275" r="1.65" fill="#E8930C"/>
<circle cx="409.6" cy="281.3" r="1.65" fill="#E8930C"/>
<circle cx="423.4" cy="281.3" r="1.65" fill="#E8930C"/>
<circle cx="413.9" cy="284.1" r="1.65" fill="#E8930C"/>
<circle cx="419.2" cy="284.1" r="1.65" fill="#E8930C"/>
<circle cx="409.6" cy="286.8" r="1.65" fill="#E8930C"/>
<circle cx="423.4" cy="287.2" r="1.65" fill="#E8930C"/>
<circle cx="416.4" cy="288.3" r="1.65" fill="#E8930C"/>
<circle cx="411.8" cy="290.8" r="1.65" fill="#E8930C"/>
<circle cx="421.3" cy="290.4" r="1.65" fill="#E8930C"/>
<circle cx="416.4" cy="295.1" r="1.65" fill="#E8930C"/>
<rect x="448.8" y="274.5" width="3.4" height="3.4" fill="#B5123A"/>
<rect x="446.6" y="279.2" width="3.4" height="3.4" fill="#B5123A"/>
<rect x="451.7" y="279.6" width="3.4" height="3.4" fill="#B5123A"/>
<rect x="448.8" y="287" width="3.4" height="3.4" fill="#B5123A"/>
<rect x="448.8" y="293.6" width="3.4" height="3.4" fill="#B5123A"/>
<rect x="439.7" y="298.9" width="3.4" height="3.4" fill="#B5123A"/>
<rect x="444.3" y="299.9" width="3.4" height="3.4" fill="#B5123A"/>
<rect x="449.2" y="300.3" width="3.4" height="3.4" fill="#B5123A"/>
<rect x="453.8" y="300.3" width="3.4" height="3.4" fill="#B5123A"/>
<rect x="458.1" y="299.3" width="3.4" height="3.4" fill="#B5123A"/>
<path d="M484.7 245.1L486.5 248.4L482.9 248.4Z" fill="#1E4A8C"/>
<path d="M484.7 255.1L486.5 258.4L482.9 258.4Z" fill="#1E4A8C"/>
<path d="M484.7 265.2L486.5 268.5L482.9 268.5Z" fill="#1E4A8C"/>
<path d="M484.7 279L486.5 282.3L482.9 282.3Z" fill="#1E4A8C"/>
<path d="M482.6 293.8L484.4 297.1L480.8 297.1Z" fill="#1E4A8C"/>
<path d="M489.4 298.5L491.2 301.8L487.6 301.8Z" fill="#1E4A8C"/>
<path d="M487.3 299.5L489.1 302.8L485.5 302.8Z" fill="#1E4A8C"/>
<path d="M482.2 302.7L484 306L480.4 306Z" fill="#1E4A8C"/>
<line x1="405.3" y1="285.5" x2="427.3" y2="285.5" stroke="#111" stroke-width="1.25"/>
<line x1="410.55" y1="283.4" x2="422.05" y2="283.4" stroke="#111" stroke-width="1.25"/>
<line x1="410.55" y1="287.5" x2="422.05" y2="287.5" stroke="#111" stroke-width="1.25"/>
<line x1="416.3" y1="283.4" x2="416.3" y2="287.5" stroke="#111" stroke-width="1.25"/>
<line x1="439.6" y1="292.9" x2="461.6" y2="292.9" stroke="#111" stroke-width="1.25"/>
<line x1="444.85" y1="289.3" x2="456.35" y2="289.3" stroke="#111" stroke-width="1.25"/>
<line x1="444.85" y1="296.2" x2="456.35" y2="296.2" stroke="#111" stroke-width="1.25"/>
<line x1="450.6" y1="289.3" x2="450.6" y2="296.2" stroke="#111" stroke-width="1.25"/>
<line x1="473.7" y1="281.9" x2="495.7" y2="281.9" stroke="#111" stroke-width="1.25"/>
<line x1="478.95" y1="275.6" x2="490.45" y2="275.6" stroke="#111" stroke-width="1.25"/>
<line x1="478.95" y1="288.3" x2="490.45" y2="288.3" stroke="#111" stroke-width="1.25"/>
<line x1="484.7" y1="275.6" x2="484.7" y2="288.3" stroke="#111" stroke-width="1.25"/>
<line x1="414.9" y1="241.1" x2="447.3" y2="241.1" stroke="#2e2e2e" stroke-width="1.35"/>
<text x="431.6" y="240.4" font-size="8.4" text-anchor="middle" letter-spacing="1.4" style="stroke:#2a2a2a;stroke-width:0.3px" fill="#2a2a2a">*</text>
<line x1="452.6" y1="241.1" x2="484.7" y2="241.1" stroke="#2e2e2e" stroke-width="1.35"/>
<text x="468.65" y="237" font-size="8.5" text-anchor="middle">0.13</text>
<text x="420.1" y="314" font-size="9.6" text-anchor="end" transform="rotate(-45 420.1 314)" textLength="35" lengthAdjust="spacingAndGlyphs">BM only</text>
<text x="455.1" y="315" font-size="9.6" text-anchor="end" transform="rotate(-45 455.1 315)" textLength="66.5" lengthAdjust="spacingAndGlyphs">cGVHD (vehicle)</text>
<text x="489.1" y="315" font-size="9.6" text-anchor="end" transform="rotate(-45 489.1 315)" textLength="54.8" lengthAdjust="spacingAndGlyphs">cGVHD (79-6)</text>
<path d="M376.8 412.4V485.8H481" fill="none" stroke="#111" stroke-width="1.6" stroke-linecap="square"/>
<line x1="373" y1="415.7" x2="376.8" y2="415.7" stroke="#111" stroke-width="1.2"/>
<text x="369.2" y="418.6" font-size="9.0" text-anchor="end">8</text>
<line x1="373" y1="433.2" x2="376.8" y2="433.2" stroke="#111" stroke-width="1.2"/>
<text x="369.2" y="436.1" font-size="9.0" text-anchor="end">6</text>
<line x1="373" y1="450.7" x2="376.8" y2="450.7" stroke="#111" stroke-width="1.2"/>
<text x="369.2" y="453.6" font-size="9.0" text-anchor="end">4</text>
<line x1="373" y1="468.3" x2="376.8" y2="468.3" stroke="#111" stroke-width="1.2"/>
<text x="369.2" y="471.2" font-size="9.0" text-anchor="end">2</text>
<line x1="373" y1="485.8" x2="376.8" y2="485.8" stroke="#111" stroke-width="1.2"/>
<text x="369.2" y="488.7" font-size="9.0" text-anchor="end">0</text>
<text x="428.6" y="398.8" font-size="10.6" text-anchor="middle" textLength="66" lengthAdjust="spacingAndGlyphs">Ig Deposition</text>
<text x="358.2" y="449.5" font-size="10.6" text-anchor="middle" transform="rotate(-90 358.2 449.5)" textLength="60.5" lengthAdjust="spacingAndGlyphs">% postive Ig</text>
<line x1="387.7" y1="467.6" x2="409.7" y2="467.6" stroke="#111" stroke-width="1.4"/>
<line x1="392.95" y1="457" x2="404.45" y2="457" stroke="#111" stroke-width="1.4"/>
<line x1="392.95" y1="477.4" x2="404.45" y2="477.4" stroke="#111" stroke-width="1.4"/>
<line x1="398.7" y1="457" x2="398.7" y2="477.4" stroke="#111" stroke-width="1.4"/>
<line x1="419" y1="436.9" x2="441" y2="436.9" stroke="#111" stroke-width="1.4"/>
<line x1="424.25" y1="428.5" x2="435.75" y2="428.5" stroke="#111" stroke-width="1.4"/>
<line x1="424.25" y1="445.3" x2="435.75" y2="445.3" stroke="#111" stroke-width="1.4"/>
<line x1="430" y1="428.5" x2="430" y2="445.3" stroke="#111" stroke-width="1.4"/>
<line x1="450.8" y1="455.1" x2="472.8" y2="455.1" stroke="#111" stroke-width="1.4"/>
<line x1="456.05" y1="442.3" x2="467.55" y2="442.3" stroke="#111" stroke-width="1.4"/>
<line x1="456.05" y1="468.3" x2="467.55" y2="468.3" stroke="#111" stroke-width="1.4"/>
<line x1="461.8" y1="442.3" x2="461.8" y2="468.3" stroke="#111" stroke-width="1.4"/>
<circle cx="398.7" cy="455" r="1.65" fill="#E8930C"/>
<circle cx="400.1" cy="463" r="1.65" fill="#E8930C"/>
<circle cx="395.8" cy="465.7" r="1.65" fill="#E8930C"/>
<circle cx="398.7" cy="476" r="1.65" fill="#E8930C"/>
<circle cx="398.7" cy="480" r="1.65" fill="#E8930C"/>
<rect x="428.8" y="425.7" width="3.4" height="3.4" fill="#B5123A"/>
<rect x="430.6" y="439.5" width="3.4" height="3.4" fill="#B5123A"/>
<rect x="426.2" y="440.6" width="3.4" height="3.4" fill="#B5123A"/>
<path d="M461.5 438.5L463.3 441.8L459.7 441.8Z" fill="#1E4A8C"/>
<path d="M461.5 449.1L463.3 452.4L459.7 452.4Z" fill="#1E4A8C"/>
<path d="M462.3 461.1L464.1 464.4L460.5 464.4Z" fill="#1E4A8C"/>
<path d="M461.5 466.3L463.3 469.6L459.7 469.6Z" fill="#1E4A8C"/>
<line x1="399.4" y1="416.8" x2="425.7" y2="416.8" stroke="#2e2e2e" stroke-width="1.35"/>
<text x="413.05" y="416.1" font-size="8.4" text-anchor="middle" letter-spacing="1.4" style="stroke:#2a2a2a;stroke-width:0.3px" fill="#2a2a2a">**</text>
<line x1="434.3" y1="416.8" x2="460.4" y2="416.8" stroke="#2e2e2e" stroke-width="1.35"/>
<text x="447.35" y="412.7" font-size="8.5" text-anchor="middle">0.08</text>
<line x1="398.7" y1="485.8" x2="398.7" y2="489.4" stroke="#111" stroke-width="1.2"/>
<text x="403.5" y="495.8" font-size="9.6" text-anchor="end" transform="rotate(-45 403.5 495.8)" textLength="36.5" lengthAdjust="spacingAndGlyphs">BM Only</text>
<line x1="429.9" y1="485.8" x2="429.9" y2="489.4" stroke="#111" stroke-width="1.2"/>
<text x="435.7" y="496.8" font-size="9.6" text-anchor="end" transform="rotate(-45 435.7 496.8)" textLength="66.5" lengthAdjust="spacingAndGlyphs">cGVHD (vehicle)</text>
<line x1="461.5" y1="485.8" x2="461.5" y2="489.4" stroke="#111" stroke-width="1.2"/>
<text x="467.3" y="496.8" font-size="9.6" text-anchor="end" transform="rotate(-45 467.3 496.8)" textLength="54.8" lengthAdjust="spacingAndGlyphs">cGVHD (79-6)</text>
<path d="M376.4 596.3V668.3H480" fill="none" stroke="#111" stroke-width="1.6" stroke-linecap="square"/>
<line x1="372.6" y1="600.1" x2="376.4" y2="600.1" stroke="#111" stroke-width="1.2"/>
<text x="368.8" y="603" font-size="9.0" text-anchor="end">0.3</text>
<line x1="372.6" y1="622.8" x2="376.4" y2="622.8" stroke="#111" stroke-width="1.2"/>
<text x="368.8" y="625.7" font-size="9.0" text-anchor="end">0.2</text>
<line x1="372.6" y1="645.5" x2="376.4" y2="645.5" stroke="#111" stroke-width="1.2"/>
<text x="368.8" y="648.4" font-size="9.0" text-anchor="end">0.1</text>
<line x1="372.6" y1="668.3" x2="376.4" y2="668.3" stroke="#111" stroke-width="1.2"/>
<text x="368.8" y="671.2" font-size="9.0" text-anchor="end">0.0</text>
<text x="432" y="580.8" font-size="10.6" text-anchor="middle" textLength="101.5" lengthAdjust="spacingAndGlyphs">Collagen Deposition</text>
<text x="349" y="630.4" font-size="10.6" text-anchor="middle" transform="rotate(-90 349 630.4)" textLength="125.5" lengthAdjust="spacingAndGlyphs">Trichrome area/total area</text>
<line x1="383.7" y1="645.2" x2="405.7" y2="645.2" stroke="#111" stroke-width="1.4"/>
<line x1="388.95" y1="643.8" x2="400.45" y2="643.8" stroke="#111" stroke-width="1.4"/>
<line x1="388.95" y1="646.6" x2="400.45" y2="646.6" stroke="#111" stroke-width="1.4"/>
<line x1="394.7" y1="643.8" x2="394.7" y2="646.6" stroke="#111" stroke-width="1.4"/>
<line x1="418" y1="618.2" x2="440" y2="618.2" stroke="#111" stroke-width="1.4"/>
<line x1="423.25" y1="611.6" x2="434.75" y2="611.6" stroke="#111" stroke-width="1.4"/>
<line x1="423.25" y1="624.5" x2="434.75" y2="624.5" stroke="#111" stroke-width="1.4"/>
<line x1="429" y1="611.6" x2="429" y2="624.5" stroke="#111" stroke-width="1.4"/>
<line x1="452" y1="648.9" x2="474" y2="648.9" stroke="#111" stroke-width="1.4"/>
<line x1="457.25" y1="645.6" x2="468.75" y2="645.6" stroke="#111" stroke-width="1.4"/>
<line x1="457.25" y1="652.6" x2="468.75" y2="652.6" stroke="#111" stroke-width="1.4"/>
<line x1="463" y1="645.6" x2="463" y2="652.6" stroke="#111" stroke-width="1.4"/>
<circle cx="394.7" cy="642" r="1.65" fill="#E8930C"/>
<circle cx="392" cy="646.3" r="1.65" fill="#E8930C"/>
<circle cx="396.5" cy="646.3" r="1.65" fill="#E8930C"/>
<rect x="427.3" y="605.7" width="3.4" height="3.4" fill="#B5123A"/>
<rect x="427.3" y="611.5" width="3.4" height="3.4" fill="#B5123A"/>
<rect x="427.3" y="615.9" width="3.4" height="3.4" fill="#B5123A"/>
<rect x="427.3" y="633.6" width="3.4" height="3.4" fill="#B5123A"/>
<path d="M463.3 639L465.1 642.3L461.5 642.3Z" fill="#1E4A8C"/>
<path d="M463.3 644.5L465.1 647.8L461.5 647.8Z" fill="#1E4A8C"/>
<path d="M465.8 651.5L467.6 654.8L464 654.8Z" fill="#1E4A8C"/>
<path d="M461.2 654L463 657.3L459.4 657.3Z" fill="#1E4A8C"/>
<line x1="393.2" y1="603.2" x2="426.8" y2="603.2" stroke="#2e2e2e" stroke-width="1.35"/>
<text x="410.5" y="602.5" font-size="8.4" text-anchor="middle" letter-spacing="1.4" style="stroke:#2a2a2a;stroke-width:0.3px" fill="#2a2a2a">*</text>
<line x1="430.5" y1="603.2" x2="463.4" y2="603.2" stroke="#2e2e2e" stroke-width="1.35"/>
<text x="447.45" y="602.5" font-size="8.4" text-anchor="middle" letter-spacing="1.4" style="stroke:#2a2a2a;stroke-width:0.3px" fill="#2a2a2a">**</text>
<text x="397.2" y="675.6" font-size="9.6" text-anchor="end" transform="rotate(-45 397.2 675.6)" textLength="36.5" lengthAdjust="spacingAndGlyphs">BM Only</text>
<text x="436" y="676.6" font-size="9.6" text-anchor="end" transform="rotate(-45 436 676.6)" textLength="66.5" lengthAdjust="spacingAndGlyphs">cGVHD (vehicle)</text>
<text x="468" y="676.6" font-size="9.6" text-anchor="end" transform="rotate(-45 468 676.6)" textLength="54.8" lengthAdjust="spacingAndGlyphs">cGVHD (79-6)</text>
<text x="57" y="411.6" font-size="10.6" text-anchor="middle" textLength="40.5" lengthAdjust="spacingAndGlyphs">BM only</text>
<text x="57.6" y="593.9" font-size="10.6" text-anchor="middle" textLength="40.5" lengthAdjust="spacingAndGlyphs">BM only</text>
<text x="167" y="411.6" font-size="10.6" text-anchor="middle" textLength="80.5" lengthAdjust="spacingAndGlyphs">cGVHD (vehicle)</text>
<text x="166.6" y="593.9" font-size="10.6" text-anchor="middle" textLength="80.5" lengthAdjust="spacingAndGlyphs">cGVHD (vehicle)</text>
<text x="278.9" y="411.6" font-size="10.6" text-anchor="middle" textLength="67.5" lengthAdjust="spacingAndGlyphs">cGVHD (79-6)</text>
<text x="278.5" y="593.9" font-size="10.6" text-anchor="middle" textLength="67.5" lengthAdjust="spacingAndGlyphs">cGVHD (79-6)</text>
<defs>
<filter id="fn1" x="0" y="0" width="100%" height="100%" color-interpolation-filters="sRGB"><feTurbulence type="turbulence" baseFrequency="0.2" numOctaves="3" seed="7"/><feColorMatrix values="0 0 0 0 0.03  0 0 0 0 0.04  0 0 0 0 1  -8 0 0 0 1.25"/></filter>
<filter id="fn2" x="0" y="0" width="100%" height="100%" color-interpolation-filters="sRGB"><feTurbulence type="turbulence" baseFrequency="0.19" numOctaves="3" seed="11"/><feColorMatrix values="0 0 0 0 0.03  0 0 0 0 0.04  0 0 0 0 1  -8 0 0 0 1.62"/></filter>
<filter id="fn3" x="0" y="0" width="100%" height="100%" color-interpolation-filters="sRGB"><feTurbulence type="turbulence" baseFrequency="0.2" numOctaves="3" seed="23"/><feColorMatrix values="0 0 0 0 0.03  0 0 0 0 0.04  0 0 0 0 1  -8 0 0 0 1.48"/></filter>
<filter id="fs1" x="0" y="0" width="100%" height="100%" color-interpolation-filters="sRGB"><feTurbulence type="fractalNoise" baseFrequency="0.42" numOctaves="2" seed="4"/><feColorMatrix values="0 0 0 0 0.03  0 0 0 0 0.04  0 0 0 0 1  0 14 0 0 -8.7"/></filter>
<filter id="fs2" x="0" y="0" width="100%" height="100%" color-interpolation-filters="sRGB"><feTurbulence type="fractalNoise" baseFrequency="0.40" numOctaves="2" seed="12"/><feColorMatrix values="0 0 0 0 0.03  0 0 0 0 0.04  0 0 0 0 1  0 14 0 0 -7.7"/></filter>
<filter id="fg1" x="0" y="0" width="100%" height="100%" color-interpolation-filters="sRGB"><feTurbulence type="turbulence" baseFrequency="0.22" numOctaves="3" seed="14"/><feColorMatrix values="0 0 0 0 0.24  0 0 0 0 0.42  0 0 0 0 0.08  -9 0 0 0 1.3"/></filter>
<filter id="fg2" x="0" y="0" width="100%" height="100%" color-interpolation-filters="sRGB"><feTurbulence type="turbulence" baseFrequency="0.2" numOctaves="3" seed="31"/><feColorMatrix values="0 0 0 0 0.3  0 0 0 0 0.52  0 0 0 0 0.12  -9 0 0 0 1.55"/></filter>
</defs>
<clipPath id="cf1"><rect x="9.2" y="418" width="96.6" height="67"/></clipPath>
<rect x="9.2" y="418" width="96.6" height="67" fill="#010104"/>
<g clip-path="url(#cf1)">
<rect x="-22.5" y="371.5" width="160" height="160" filter="url(#fg1)" transform="rotate(50 57.5 451.5)" opacity="0.5"/>
<rect x="-22.5" y="371.5" width="160" height="160" filter="url(#fs1)" transform="rotate(27 57.5 451.5)" opacity="0.85"/>
<clipPath id="cd1_0"><ellipse cx="56.5" cy="448" rx="26" ry="16" transform="rotate(-13 56.5 448)" /></clipPath>
<g clip-path="url(#cd1_0)">
<rect x="-22.5" y="371.5" width="160" height="160" filter="url(#fs2)" transform="rotate(63 57.5 451.5)" opacity="0.8"/>
</g>
<g fill="none" stroke="#5a7a1c" stroke-width="0.6" opacity="0.55" stroke-dasharray="1.6 1.4 0.8 2" filter="url(#b0)"><ellipse cx="65.34" cy="431.05" rx="4.91" ry="5.71" transform="rotate(119 65.34 431.05)"/><ellipse cx="13.89" cy="451.74" rx="4.01" ry="4.64" transform="rotate(124 13.89 451.74)"/><ellipse cx="76.09" cy="432.23" rx="4.93" ry="3.62" transform="rotate(49 76.09 432.23)"/><ellipse cx="24.76" cy="447.83" rx="3.84" ry="3.06" transform="rotate(83 24.76 447.83)"/><ellipse cx="32.27" cy="471.01" rx="3.56" ry="2.6" transform="rotate(119 32.27 471.01)"/><ellipse cx="38.59" cy="425.42" rx="4.56" ry="4.74" transform="rotate(170 38.59 425.42)"/><ellipse cx="92.17" cy="435.91" rx="4.46" ry="3.63" transform="rotate(19 92.17 435.91)"/><ellipse cx="48.28" cy="462.82" rx="2.52" ry="2.35" transform="rotate(136 48.28 462.82)"/><ellipse cx="18.35" cy="471.31" rx="3.43" ry="3.02" transform="rotate(67 18.35 471.31)"/><ellipse cx="63.72" cy="428.28" rx="2.59" ry="2.04" transform="rotate(16 63.72 428.28)"/><ellipse cx="82.96" cy="445.11" rx="4.98" ry="5.54" transform="rotate(167 82.96 445.11)"/><ellipse cx="64.17" cy="429.14" rx="4.61" ry="4.4" transform="rotate(46 64.17 429.14)"/><ellipse cx="75.96" cy="463.79" rx="2.51" ry="1.87" transform="rotate(8 75.96 463.79)"/><ellipse cx="51.92" cy="472.75" rx="4.19" ry="4.21" transform="rotate(154 51.92 472.75)"/><ellipse cx="87.37" cy="471.08" rx="2.85" ry="2.25" transform="rotate(51 87.37 471.08)"/><ellipse cx="80.51" cy="477.79" rx="3.62" ry="4.14" transform="rotate(35 80.51 477.79)"/><ellipse cx="17.05" cy="428.05" rx="3.28" ry="2.91" transform="rotate(15 17.05 428.05)"/><ellipse cx="62.19" cy="464.18" rx="3.38" ry="2.46" transform="rotate(71 62.19 464.18)"/><ellipse cx="24.08" cy="449.23" rx="3.56" ry="3.43" transform="rotate(81 24.08 449.23)"/><ellipse cx="32.8" cy="436.8" rx="4.94" ry="3.9" transform="rotate(3 32.8 436.8)"/><ellipse cx="70.35" cy="475.4" rx="3.65" ry="3.59" transform="rotate(86 70.35 475.4)"/><ellipse cx="32.24" cy="436.31" rx="4.15" ry="4.05" transform="rotate(137 32.24 436.31)"/><ellipse cx="39.66" cy="419.24" rx="2.83" ry="2.47" transform="rotate(93 39.66 419.24)"/><ellipse cx="95.58" cy="444.85" rx="2.64" ry="2.14" transform="rotate(16 95.58 444.85)"/><ellipse cx="30.08" cy="462.55" rx="2.86" ry="2.18" transform="rotate(6 30.08 462.55)"/><ellipse cx="52.42" cy="462.56" rx="4.19" ry="4.37" transform="rotate(93 52.42 462.56)"/><ellipse cx="58.77" cy="459.97" rx="3.02" ry="2.81" transform="rotate(142 58.77 459.97)"/><ellipse cx="39.95" cy="463.29" rx="4.34" ry="3.56" transform="rotate(111 39.95 463.29)"/><ellipse cx="28.86" cy="483.27" rx="4.38" ry="3.6" transform="rotate(148 28.86 483.27)"/><ellipse cx="105.11" cy="467.58" rx="3.6" ry="3.72" transform="rotate(68 105.11 467.58)"/><ellipse cx="62.6" cy="431.7" rx="2.58" ry="2.97" transform="rotate(158 62.6 431.7)"/><ellipse cx="98.27" cy="421.9" rx="3.53" ry="3.27" transform="rotate(70 98.27 421.9)"/><ellipse cx="83.59" cy="481.95" rx="3.72" ry="4.1" transform="rotate(162 83.59 481.95)"/><ellipse cx="15.15" cy="464.37" rx="3.16" ry="3.23" transform="rotate(176 15.15 464.37)"/></g>
<g fill="none" stroke="#1420d8" stroke-width="0.75" opacity="0.7" stroke-dasharray="1.8 1.1 0.9 1.6 2.6 1.2" filter="url(#b0)"><ellipse cx="23.51" cy="459.27" rx="2.88" ry="3.04" transform="rotate(155 23.51 459.27)"/><ellipse cx="26.83" cy="437.62" rx="3.6" ry="3.57" transform="rotate(135 26.83 437.62)"/><ellipse cx="61.65" cy="468.01" rx="4.88" ry="3.87" transform="rotate(96 61.65 468.01)"/><ellipse cx="14.31" cy="430.31" rx="4.01" ry="4.61" transform="rotate(56 14.31 430.31)"/><ellipse cx="78.2" cy="453.22" rx="3.77" ry="3.42" transform="rotate(122 78.2 453.22)"/><ellipse cx="73.95" cy="434.51" rx="2.66" ry="2.3" transform="rotate(176 73.95 434.51)"/><ellipse cx="27.99" cy="446.64" rx="4.09" ry="4.58" transform="rotate(34 27.99 446.64)"/><ellipse cx="96.87" cy="429.19" rx="2.98" ry="2.96" transform="rotate(161 96.87 429.19)"/><ellipse cx="37.68" cy="426.56" rx="4.12" ry="4.87" transform="rotate(68 37.68 426.56)"/><ellipse cx="88.9" cy="460.83" rx="3.72" ry="4.36" transform="rotate(114 88.9 460.83)"/><ellipse cx="93.53" cy="484.33" rx="3.83" ry="3.08" transform="rotate(62 93.53 484.33)"/><ellipse cx="80.98" cy="458.22" rx="4.96" ry="5.02" transform="rotate(136 80.98 458.22)"/><ellipse cx="90.06" cy="442.77" rx="2.54" ry="1.93" transform="rotate(121 90.06 442.77)"/><ellipse cx="100.4" cy="429.53" rx="2.6" ry="2.94" transform="rotate(98 100.4 429.53)"/><ellipse cx="79.36" cy="445.83" rx="4.89" ry="3.84" transform="rotate(80 79.36 445.83)"/><ellipse cx="52.46" cy="462.4" rx="3.02" ry="2.74" transform="rotate(36 52.46 462.4)"/><ellipse cx="32.54" cy="436.46" rx="2.72" ry="2.96" transform="rotate(1 32.54 436.46)"/><ellipse cx="49.23" cy="434.3" rx="2.93" ry="2.48" transform="rotate(174 49.23 434.3)"/><ellipse cx="28.67" cy="449.17" rx="4.66" ry="5.19" transform="rotate(118 28.67 449.17)"/><ellipse cx="64.42" cy="431.87" rx="4.47" ry="3.71" transform="rotate(43 64.42 431.87)"/><ellipse cx="95.58" cy="465.88" rx="4.28" ry="4.63" transform="rotate(174 95.58 465.88)"/><ellipse cx="54.52" cy="418.51" rx="3.17" ry="2.57" transform="rotate(166 54.52 418.51)"/><ellipse cx="50.44" cy="481.21" rx="3.06" ry="2.39" transform="rotate(18 50.44 481.21)"/><ellipse cx="35.67" cy="470.16" rx="4.44" ry="5.03" transform="rotate(15 35.67 470.16)"/><ellipse cx="76.35" cy="462.84" rx="4.98" ry="3.82" transform="rotate(154 76.35 462.84)"/><ellipse cx="48.12" cy="467.63" rx="2.61" ry="2.82" transform="rotate(139 48.12 467.63)"/><ellipse cx="22.18" cy="479.27" rx="3.67" ry="3.03" transform="rotate(35 22.18 479.27)"/><ellipse cx="78.22" cy="435.47" rx="5.14" ry="5.91" transform="rotate(38 78.22 435.47)"/><ellipse cx="98.49" cy="450.45" rx="5.07" ry="3.72" transform="rotate(142 98.49 450.45)"/><ellipse cx="82.1" cy="482.24" rx="2.49" ry="2.37" transform="rotate(142 82.1 482.24)"/><ellipse cx="65.16" cy="428.86" rx="3.11" ry="2.33" transform="rotate(177 65.16 428.86)"/><ellipse cx="94.01" cy="464.98" rx="5.09" ry="4.97" transform="rotate(20 94.01 464.98)"/><ellipse cx="85.6" cy="464.61" rx="2.74" ry="3.04" transform="rotate(168 85.6 464.61)"/><ellipse cx="29.19" cy="428.21" rx="2.59" ry="2.04" transform="rotate(101 29.19 428.21)"/><ellipse cx="31.22" cy="477.23" rx="2.78" ry="2.41" transform="rotate(120 31.22 477.23)"/><ellipse cx="35.73" cy="435.48" rx="3.65" ry="2.93" transform="rotate(171 35.73 435.48)"/><ellipse cx="29.02" cy="425.31" rx="4.33" ry="3.77" transform="rotate(124 29.02 425.31)"/><ellipse cx="61.05" cy="466.38" rx="4.07" ry="4.41" transform="rotate(116 61.05 466.38)"/><ellipse cx="105.2" cy="419.24" rx="3.67" ry="4.39" transform="rotate(76 105.2 419.24)"/><ellipse cx="60.32" cy="483.11" rx="2.56" ry="2.39" transform="rotate(100 60.32 483.11)"/><ellipse cx="15" cy="431.2" rx="4.45" ry="5.29" transform="rotate(163 15 431.2)"/><ellipse cx="31.49" cy="439.61" rx="4.65" ry="4.99" transform="rotate(176 31.49 439.61)"/><ellipse cx="75.07" cy="479.3" rx="4.77" ry="4.85" transform="rotate(72 75.07 479.3)"/><ellipse cx="71.54" cy="425.64" rx="3.95" ry="4.38" transform="rotate(67 71.54 425.64)"/><ellipse cx="37.18" cy="452.44" rx="2.94" ry="2.18" transform="rotate(44 37.18 452.44)"/><ellipse cx="61.77" cy="433.91" rx="4.07" ry="3.4" transform="rotate(176 61.77 433.91)"/><ellipse cx="9.43" cy="431.76" rx="4.72" ry="4.71" transform="rotate(102 9.43 431.76)"/><ellipse cx="78.66" cy="434.42" rx="4.04" ry="3.17" transform="rotate(102 78.66 434.42)"/></g>
<ellipse cx="58.9" cy="446.4" rx="17.3" ry="10.6" transform="rotate(-13 58.9 446.4)" fill="#010104" stroke="#0c16c8" stroke-width="1.8" opacity="0.65" filter="url(#b1)"/>
<ellipse cx="58.9" cy="446.4" rx="17.3" ry="10.6" transform="rotate(-13 58.9 446.4)" fill="#010104" stroke="#1c2cff" stroke-width="1.05" filter="url(#b0)"/>
</g>
<clipPath id="cf2"><rect x="118.8" y="418" width="96.7" height="66.8"/></clipPath>
<rect x="118.8" y="418" width="96.7" height="66.8" fill="#010104"/>
<g clip-path="url(#cf2)">
<rect x="87.15" y="371.4" width="160" height="160" filter="url(#fg2)" transform="rotate(40 167.15 451.4)" opacity="0.6"/>
<rect x="87.15" y="371.4" width="160" height="160" filter="url(#fn3)" transform="rotate(63 167.15 451.4)" opacity="0.4"/>
<rect x="87.15" y="371.4" width="160" height="160" filter="url(#fs1)" transform="rotate(15 167.15 451.4)" opacity="0.8"/>
<clipPath id="cd2_0"><ellipse cx="168" cy="447" rx="31" ry="23" transform="rotate(-15 168 447)" /></clipPath>
<g clip-path="url(#cd2_0)">
<rect x="87.15" y="371.4" width="160" height="160" filter="url(#fn2)" transform="rotate(20 167.15 451.4)" opacity="1"/>
<rect x="87.15" y="371.4" width="160" height="160" filter="url(#fs2)" transform="rotate(40 167.15 451.4)" opacity="1"/>
</g>
<clipPath id="cd2_1"><ellipse cx="157" cy="435" rx="14" ry="9" transform="rotate(-30 157 435)" /></clipPath>
<g clip-path="url(#cd2_1)">
<rect x="87.15" y="371.4" width="160" height="160" filter="url(#fs2)" transform="rotate(75 167.15 451.4)" opacity="1"/>
<rect x="87.15" y="371.4" width="160" height="160" filter="url(#fn2)" transform="rotate(50 167.15 451.4)" opacity="1"/>
</g>
<clipPath id="cd2_2"><ellipse cx="203" cy="444" rx="6" ry="8" transform="rotate(0 203 444)" /></clipPath>
<g clip-path="url(#cd2_2)">
<rect x="87.15" y="371.4" width="160" height="160" filter="url(#fs2)" transform="rotate(5 167.15 451.4)" opacity="1"/>
<rect x="87.15" y="371.4" width="160" height="160" filter="url(#fn2)" transform="rotate(85 167.15 451.4)" opacity="1"/>
</g>
<g fill="none" stroke="#6a8c22" stroke-width="0.65" opacity="0.65" stroke-dasharray="1.6 1.2 0.8 1.6" filter="url(#b0)"><ellipse cx="125.29" cy="439.75" rx="2.51" ry="2.11" transform="rotate(179 125.29 439.75)"/><ellipse cx="162.41" cy="475.76" rx="4.03" ry="3.1" transform="rotate(145 162.41 475.76)"/><ellipse cx="214.03" cy="422.16" rx="3.07" ry="3.54" transform="rotate(48 214.03 422.16)"/><ellipse cx="120.13" cy="425.18" rx="3.9" ry="4.57" transform="rotate(167 120.13 425.18)"/><ellipse cx="191.63" cy="462.46" rx="2.58" ry="2.54" transform="rotate(19 191.63 462.46)"/><ellipse cx="192.34" cy="466.06" rx="3.75" ry="4.19" transform="rotate(142 192.34 466.06)"/><ellipse cx="184.82" cy="437.6" rx="2.74" ry="2.71" transform="rotate(136 184.82 437.6)"/><ellipse cx="152.39" cy="455.49" rx="3.44" ry="2.46" transform="rotate(112 152.39 455.49)"/><ellipse cx="187.5" cy="445.97" rx="4.92" ry="3.47" transform="rotate(105 187.5 445.97)"/><ellipse cx="132.3" cy="465.61" rx="3.12" ry="2.2" transform="rotate(170 132.3 465.61)"/><ellipse cx="151.9" cy="430.82" rx="3.97" ry="4.31" transform="rotate(125 151.9 430.82)"/><ellipse cx="160.77" cy="437.56" rx="4.58" ry="5.13" transform="rotate(18 160.77 437.56)"/><ellipse cx="154.84" cy="476.35" rx="3.78" ry="4.13" transform="rotate(52 154.84 476.35)"/><ellipse cx="122.41" cy="466.64" rx="3.72" ry="2.61" transform="rotate(56 122.41 466.64)"/><ellipse cx="190.38" cy="469.72" rx="3.96" ry="3.8" transform="rotate(88 190.38 469.72)"/><ellipse cx="194.96" cy="445.47" rx="4.86" ry="5.77" transform="rotate(41 194.96 445.47)"/><ellipse cx="163.11" cy="419.53" rx="3.03" ry="2.13" transform="rotate(91 163.11 419.53)"/><ellipse cx="160.74" cy="419.36" rx="2.51" ry="3" transform="rotate(87 160.74 419.36)"/><ellipse cx="138.66" cy="451.89" rx="4.96" ry="4.52" transform="rotate(39 138.66 451.89)"/><ellipse cx="198.48" cy="444.93" rx="3.64" ry="3.32" transform="rotate(35 198.48 444.93)"/><ellipse cx="183.5" cy="458.08" rx="4.11" ry="3.37" transform="rotate(153 183.5 458.08)"/><ellipse cx="122.68" cy="478.63" rx="3.83" ry="3.84" transform="rotate(139 122.68 478.63)"/><ellipse cx="177.8" cy="471.45" rx="3.25" ry="3.55" transform="rotate(131 177.8 471.45)"/><ellipse cx="148.91" cy="471.16" rx="4.23" ry="3.03" transform="rotate(23 148.91 471.16)"/><ellipse cx="137.65" cy="437.19" rx="3.2" ry="3.33" transform="rotate(140 137.65 437.19)"/><ellipse cx="160.33" cy="469.84" rx="2.54" ry="2.3" transform="rotate(26 160.33 469.84)"/><ellipse cx="185.96" cy="479.9" rx="4.47" ry="3.52" transform="rotate(21 185.96 479.9)"/><ellipse cx="144.89" cy="450.26" rx="4.52" ry="3.67" transform="rotate(65 144.89 450.26)"/><ellipse cx="121.37" cy="433.11" rx="3.88" ry="4.28" transform="rotate(3 121.37 433.11)"/><ellipse cx="179.74" cy="475.24" rx="3.96" ry="4.62" transform="rotate(8 179.74 475.24)"/><ellipse cx="118.88" cy="430.61" rx="3.16" ry="3.57" transform="rotate(76 118.88 430.61)"/><ellipse cx="136.78" cy="425.18" rx="4.66" ry="4.16" transform="rotate(139 136.78 425.18)"/><ellipse cx="149.2" cy="453.08" rx="3.4" ry="2.9" transform="rotate(95 149.2 453.08)"/><ellipse cx="122.61" cy="447.81" rx="2.52" ry="1.9" transform="rotate(139 122.61 447.81)"/><ellipse cx="171.99" cy="482.89" rx="2.88" ry="2.84" transform="rotate(37 171.99 482.89)"/><ellipse cx="142.25" cy="448.25" rx="3.96" ry="2.99" transform="rotate(114 142.25 448.25)"/><ellipse cx="138.49" cy="483.13" rx="3.12" ry="2.32" transform="rotate(153 138.49 483.13)"/><ellipse cx="183.52" cy="467.27" rx="3.29" ry="2.69" transform="rotate(173 183.52 467.27)"/><ellipse cx="210.77" cy="450.36" rx="3.6" ry="3.68" transform="rotate(178 210.77 450.36)"/><ellipse cx="143.08" cy="461.26" rx="4.54" ry="4.78" transform="rotate(102 143.08 461.26)"/><ellipse cx="146.05" cy="425.79" rx="3.99" ry="4.31" transform="rotate(156 146.05 425.79)"/><ellipse cx="203.57" cy="478.5" rx="3.98" ry="4.62" transform="rotate(117 203.57 478.5)"/><ellipse cx="185.99" cy="462.95" rx="4.9" ry="3.48" transform="rotate(91 185.99 462.95)"/><ellipse cx="188.91" cy="427.06" rx="2.91" ry="2.58" transform="rotate(157 188.91 427.06)"/><ellipse cx="207.74" cy="428.44" rx="3.1" ry="3.06" transform="rotate(157 207.74 428.44)"/><ellipse cx="176.51" cy="464.85" rx="4.6" ry="3.58" transform="rotate(20 176.51 464.85)"/><ellipse cx="153.58" cy="464.8" rx="4.23" ry="3.28" transform="rotate(17 153.58 464.8)"/><ellipse cx="133.19" cy="460.74" rx="4.62" ry="4.97" transform="rotate(45 133.19 460.74)"/><ellipse cx="124.9" cy="432.76" rx="4.84" ry="4.88" transform="rotate(123 124.9 432.76)"/><ellipse cx="207.39" cy="465.33" rx="2.9" ry="2.61" transform="rotate(76 207.39 465.33)"/><ellipse cx="202.66" cy="451.46" rx="2.58" ry="1.84" transform="rotate(166 202.66 451.46)"/><ellipse cx="211.19" cy="442.28" rx="3.23" ry="2.78" transform="rotate(11 211.19 442.28)"/><ellipse cx="121.83" cy="427.83" rx="2.69" ry="2.91" transform="rotate(125 121.83 427.83)"/><ellipse cx="156.15" cy="457.15" rx="4.58" ry="3.48" transform="rotate(173 156.15 457.15)"/><ellipse cx="191.1" cy="452.65" rx="3.65" ry="2.73" transform="rotate(0 191.1 452.65)"/><ellipse cx="130.84" cy="475.93" rx="4.25" ry="3.77" transform="rotate(19 130.84 475.93)"/><ellipse cx="125.55" cy="444.17" rx="3.12" ry="2.95" transform="rotate(8 125.55 444.17)"/><ellipse cx="160.5" cy="425.34" rx="3.88" ry="2.73" transform="rotate(54 160.5 425.34)"/><ellipse cx="139.15" cy="474" rx="2.96" ry="3.11" transform="rotate(162 139.15 474)"/><ellipse cx="178.67" cy="420.68" rx="3.97" ry="2.84" transform="rotate(109 178.67 420.68)"/></g>
<g fill="none" stroke="#1622dc" stroke-width="0.8" opacity="0.85" stroke-dasharray="2 1 1 1.4 2.8 1" filter="url(#b0)"><ellipse cx="192.67" cy="461.07" rx="3.35" ry="2.67" transform="rotate(173 192.67 461.07)"/><ellipse cx="157.29" cy="421.75" rx="3.44" ry="3.18" transform="rotate(135 157.29 421.75)"/><ellipse cx="150.32" cy="433.86" rx="3.96" ry="4.27" transform="rotate(164 150.32 433.86)"/><ellipse cx="169.37" cy="476.04" rx="3.11" ry="2.38" transform="rotate(119 169.37 476.04)"/><ellipse cx="190.88" cy="473.32" rx="4.04" ry="3.88" transform="rotate(65 190.88 473.32)"/><ellipse cx="162.02" cy="476.38" rx="3.58" ry="4.24" transform="rotate(45 162.02 476.38)"/><ellipse cx="202.85" cy="469.48" rx="2.31" ry="1.92" transform="rotate(45 202.85 469.48)"/><ellipse cx="139.4" cy="431.47" rx="3.2" ry="3.65" transform="rotate(176 139.4 431.47)"/><ellipse cx="195.29" cy="431.23" rx="4.95" ry="4.23" transform="rotate(166 195.29 431.23)"/><ellipse cx="152.71" cy="437.96" rx="3.14" ry="2.92" transform="rotate(62 152.71 437.96)"/><ellipse cx="213.09" cy="469.37" rx="3.92" ry="4.29" transform="rotate(100 213.09 469.37)"/><ellipse cx="134.08" cy="455.12" rx="3.18" ry="2.77" transform="rotate(50 134.08 455.12)"/><ellipse cx="175.59" cy="419.01" rx="4.88" ry="5.78" transform="rotate(99 175.59 419.01)"/><ellipse cx="190.12" cy="434.82" rx="3.86" ry="3.67" transform="rotate(77 190.12 434.82)"/><ellipse cx="214.59" cy="461.5" rx="4.69" ry="4.59" transform="rotate(170 214.59 461.5)"/><ellipse cx="172.67" cy="426.93" rx="2.35" ry="1.67" transform="rotate(88 172.67 426.93)"/><ellipse cx="188.99" cy="447.68" rx="4.29" ry="3.3" transform="rotate(127 188.99 447.68)"/><ellipse cx="128.59" cy="455.77" rx="2.64" ry="1.86" transform="rotate(15 128.59 455.77)"/><ellipse cx="196.65" cy="475.61" rx="2.44" ry="2.18" transform="rotate(93 196.65 475.61)"/><ellipse cx="137.64" cy="463.51" rx="4.42" ry="3.55" transform="rotate(119 137.64 463.51)"/><ellipse cx="211.81" cy="480.08" rx="2.91" ry="2.66" transform="rotate(62 211.81 480.08)"/><ellipse cx="194.74" cy="433.65" rx="4.06" ry="3.8" transform="rotate(154 194.74 433.65)"/><ellipse cx="135.51" cy="433.01" rx="3.52" ry="3.85" transform="rotate(21 135.51 433.01)"/><ellipse cx="172.37" cy="419.31" rx="3.37" ry="3.95" transform="rotate(165 172.37 419.31)"/><ellipse cx="149.07" cy="459.92" rx="4.95" ry="4.94" transform="rotate(164 149.07 459.92)"/><ellipse cx="155.08" cy="476.37" rx="3.78" ry="3.57" transform="rotate(95 155.08 476.37)"/><ellipse cx="148.84" cy="434.68" rx="2.48" ry="2.42" transform="rotate(143 148.84 434.68)"/><ellipse cx="143.1" cy="482.23" rx="3.98" ry="3.38" transform="rotate(125 143.1 482.23)"/><ellipse cx="171.83" cy="426.02" rx="3.92" ry="4.65" transform="rotate(71 171.83 426.02)"/><ellipse cx="196.8" cy="442.54" rx="3.37" ry="3.14" transform="rotate(13 196.8 442.54)"/><ellipse cx="212.24" cy="468.52" rx="2.76" ry="2.59" transform="rotate(87 212.24 468.52)"/><ellipse cx="213.3" cy="467.35" rx="3.82" ry="3.11" transform="rotate(95 213.3 467.35)"/><ellipse cx="184.89" cy="460.35" rx="2.74" ry="2.19" transform="rotate(50 184.89 460.35)"/><ellipse cx="134.05" cy="480.29" rx="2.26" ry="1.63" transform="rotate(87 134.05 480.29)"/><ellipse cx="197.34" cy="437.3" rx="2.77" ry="3.27" transform="rotate(36 197.34 437.3)"/><ellipse cx="189.35" cy="474.38" rx="2.24" ry="1.61" transform="rotate(177 189.35 474.38)"/><ellipse cx="158" cy="427.32" rx="2.42" ry="1.75" transform="rotate(146 158 427.32)"/><ellipse cx="162.39" cy="481.87" rx="4.71" ry="5.52" transform="rotate(67 162.39 481.87)"/><ellipse cx="144.01" cy="468.15" rx="4.06" ry="3.68" transform="rotate(88 144.01 468.15)"/><ellipse cx="138.28" cy="419.45" rx="3.65" ry="3.38" transform="rotate(55 138.28 419.45)"/><ellipse cx="207.19" cy="454.31" rx="3.16" ry="3.38" transform="rotate(16 207.19 454.31)"/><ellipse cx="169.57" cy="465.84" rx="3.89" ry="3.37" transform="rotate(51 169.57 465.84)"/><ellipse cx="154.12" cy="437.29" rx="4.42" ry="4.41" transform="rotate(97 154.12 437.29)"/><ellipse cx="153.97" cy="473.36" rx="3.27" ry="2.73" transform="rotate(136 153.97 473.36)"/><ellipse cx="137.5" cy="468.02" rx="3.23" ry="3.42" transform="rotate(56 137.5 468.02)"/><ellipse cx="212.43" cy="474.45" rx="4.15" ry="4.36" transform="rotate(63 212.43 474.45)"/><ellipse cx="159.4" cy="435.29" rx="2.88" ry="3.36" transform="rotate(17 159.4 435.29)"/><ellipse cx="213.39" cy="424.13" rx="2.41" ry="1.75" transform="rotate(178 213.39 424.13)"/><ellipse cx="149.33" cy="440.95" rx="3.01" ry="3.45" transform="rotate(5 149.33 440.95)"/><ellipse cx="189.26" cy="477.75" rx="4.2" ry="3.44" transform="rotate(51 189.26 477.75)"/><ellipse cx="151.91" cy="447.17" rx="3.66" ry="3.5" transform="rotate(39 151.91 447.17)"/><ellipse cx="137.77" cy="460.78" rx="4.01" ry="2.84" transform="rotate(38 137.77 460.78)"/><ellipse cx="120.19" cy="427.52" rx="4.99" ry="4.08" transform="rotate(111 120.19 427.52)"/><ellipse cx="199.86" cy="454.62" rx="3.93" ry="4.06" transform="rotate(76 199.86 454.62)"/><ellipse cx="184.04" cy="435.77" rx="2.29" ry="2.68" transform="rotate(147 184.04 435.77)"/><ellipse cx="139.05" cy="450.63" rx="2.37" ry="1.73" transform="rotate(132 139.05 450.63)"/><ellipse cx="214.78" cy="478.9" rx="3.4" ry="3.19" transform="rotate(39 214.78 478.9)"/><ellipse cx="179.33" cy="476.52" rx="2.56" ry="2.78" transform="rotate(33 179.33 476.52)"/><ellipse cx="169.67" cy="473.11" rx="4.52" ry="3.96" transform="rotate(11 169.67 473.11)"/><ellipse cx="176.94" cy="436.54" rx="4.06" ry="4.79" transform="rotate(88 176.94 436.54)"/><ellipse cx="135.87" cy="433.51" rx="4.23" ry="3.19" transform="rotate(90 135.87 433.51)"/><ellipse cx="202.17" cy="419.68" rx="2.42" ry="2.35" transform="rotate(165 202.17 419.68)"/><ellipse cx="155.63" cy="465.28" rx="3.02" ry="2.75" transform="rotate(53 155.63 465.28)"/><ellipse cx="215.12" cy="422.42" rx="4.64" ry="3.96" transform="rotate(4 215.12 422.42)"/><ellipse cx="172.79" cy="481.07" rx="2.87" ry="2.35" transform="rotate(152 172.79 481.07)"/><ellipse cx="132.99" cy="452.08" rx="3.35" ry="2.63" transform="rotate(84 132.99 452.08)"/><ellipse cx="207.78" cy="441.49" rx="3.07" ry="2.72" transform="rotate(6 207.78 441.49)"/><ellipse cx="131.77" cy="435.29" rx="2.54" ry="2.51" transform="rotate(167 131.77 435.29)"/><ellipse cx="213.38" cy="484.2" rx="4.78" ry="4.31" transform="rotate(25 213.38 484.2)"/><ellipse cx="144.41" cy="426.95" rx="4.95" ry="3.69" transform="rotate(141 144.41 426.95)"/><ellipse cx="155.91" cy="475.26" rx="3.43" ry="4.01" transform="rotate(63 155.91 475.26)"/><ellipse cx="193.7" cy="421.28" rx="4.09" ry="2.93" transform="rotate(155 193.7 421.28)"/><ellipse cx="197.87" cy="459.73" rx="3.06" ry="2.6" transform="rotate(152 197.87 459.73)"/><ellipse cx="209.51" cy="436.13" rx="3.22" ry="2.99" transform="rotate(81 209.51 436.13)"/><ellipse cx="192.34" cy="466.64" rx="4.06" ry="4.34" transform="rotate(4 192.34 466.64)"/><ellipse cx="152.02" cy="460.25" rx="3.41" ry="3.39" transform="rotate(161 152.02 460.25)"/><ellipse cx="173.67" cy="424.21" rx="3.85" ry="3.15" transform="rotate(15 173.67 424.21)"/><ellipse cx="194.31" cy="481.2" rx="4.66" ry="3.76" transform="rotate(103 194.31 481.2)"/><ellipse cx="214.28" cy="461.11" rx="4.34" ry="3.92" transform="rotate(43 214.28 461.11)"/><ellipse cx="134.38" cy="438.24" rx="3.62" ry="3.61" transform="rotate(157 134.38 438.24)"/><ellipse cx="190.71" cy="421.38" rx="4.45" ry="4.6" transform="rotate(120 190.71 421.38)"/><ellipse cx="200.87" cy="452.26" rx="4.13" ry="3.69" transform="rotate(76 200.87 452.26)"/><ellipse cx="127.72" cy="468.04" rx="4.53" ry="4.73" transform="rotate(171 127.72 468.04)"/><ellipse cx="127.95" cy="474.15" rx="3.99" ry="4.28" transform="rotate(155 127.95 474.15)"/><ellipse cx="173.41" cy="419.54" rx="4.29" ry="4.62" transform="rotate(114 173.41 419.54)"/><ellipse cx="213.96" cy="447.84" rx="4.16" ry="4.28" transform="rotate(25 213.96 447.84)"/><ellipse cx="207.59" cy="473.14" rx="2.32" ry="1.91" transform="rotate(118 207.59 473.14)"/><ellipse cx="147.74" cy="457.99" rx="4.03" ry="4.25" transform="rotate(68 147.74 457.99)"/><ellipse cx="177.09" cy="435.53" rx="2.78" ry="2.18" transform="rotate(110 177.09 435.53)"/><ellipse cx="159.46" cy="461.6" rx="4.98" ry="3.88" transform="rotate(100 159.46 461.6)"/><ellipse cx="125.71" cy="445.31" rx="4.92" ry="4.01" transform="rotate(97 125.71 445.31)"/><ellipse cx="213.45" cy="424.49" rx="3.2" ry="3.65" transform="rotate(85 213.45 424.49)"/><ellipse cx="148.67" cy="452.3" rx="4.38" ry="3.41" transform="rotate(164 148.67 452.3)"/><ellipse cx="193.39" cy="465.69" rx="3" ry="2.97" transform="rotate(152 193.39 465.69)"/><ellipse cx="192.2" cy="476.47" rx="4.65" ry="3.34" transform="rotate(81 192.2 476.47)"/><ellipse cx="168.49" cy="465.04" rx="4.9" ry="4.79" transform="rotate(107 168.49 465.04)"/><ellipse cx="120.38" cy="445.34" rx="4.22" ry="4.54" transform="rotate(108 120.38 445.34)"/><ellipse cx="171.55" cy="471.41" rx="4.72" ry="3.42" transform="rotate(96 171.55 471.41)"/><ellipse cx="191.76" cy="436.59" rx="3.84" ry="3.83" transform="rotate(69 191.76 436.59)"/><ellipse cx="151.92" cy="421.72" rx="4.24" ry="4.6" transform="rotate(142 151.92 421.72)"/><ellipse cx="183.56" cy="471.39" rx="4.06" ry="3.28" transform="rotate(82 183.56 471.39)"/><ellipse cx="192.55" cy="466.26" rx="4.1" ry="4.79" transform="rotate(4 192.55 466.26)"/><ellipse cx="121.84" cy="423.16" rx="4.08" ry="4.1" transform="rotate(151 121.84 423.16)"/><ellipse cx="164.2" cy="471.2" rx="4.21" ry="3.54" transform="rotate(111 164.2 471.2)"/><ellipse cx="126.06" cy="477.26" rx="2.83" ry="3.01" transform="rotate(163 126.06 477.26)"/><ellipse cx="201.29" cy="470.5" rx="4.25" ry="4.93" transform="rotate(121 201.29 470.5)"/><ellipse cx="197.58" cy="430.32" rx="4.48" ry="3.39" transform="rotate(49 197.58 430.32)"/><ellipse cx="202.59" cy="479.9" rx="3.85" ry="3.14" transform="rotate(64 202.59 479.9)"/><ellipse cx="130.22" cy="421.15" rx="4.68" ry="5.3" transform="rotate(26 130.22 421.15)"/><ellipse cx="167.61" cy="469.26" rx="3.27" ry="2.53" transform="rotate(63 167.61 469.26)"/></g>
<ellipse cx="171" cy="449.8" rx="17.4" ry="14.2" transform="rotate(-10 171 449.8)" fill="#03030f" stroke="#1018b8" stroke-width="3.4" opacity="0.85" stroke-dasharray="3 0.8 1.6 0.6 4 1" filter="url(#b1)"/>
<ellipse cx="171" cy="449.8" rx="16.2" ry="13" transform="rotate(-10 171 449.8)" fill="#02020c" stroke="#1a26e0" stroke-width="1.0" opacity="0.75" stroke-dasharray="2.4 0.7 1.2 0.5" filter="url(#b0)"/>
<g fill="#9fe89a" filter="url(#b1)"><circle cx="160.8" cy="428.6" r="1.5"/><circle cx="156.6" cy="433.2" r="1.7"/><circle cx="159.2" cy="436.4" r="1.2"/><circle cx="164" cy="426" r="1"/><circle cx="153" cy="439" r="1"/><circle cx="166.5" cy="423.4" r="0.9"/><circle cx="196.6" cy="431" r="1"/><circle cx="201" cy="441" r="1.1" fill="#7fb0ff"/></g>
<g fill="#e4ffe0"><circle cx="156.6" cy="433.2" r="0.8"/><circle cx="160.8" cy="428.6" r="0.7"/></g>
</g>
<clipPath id="cf3"><rect x="230" y="418" width="97" height="66.8"/></clipPath>
<rect x="230" y="418" width="97" height="66.8" fill="#010104"/>
<g clip-path="url(#cf3)">
<rect x="198.5" y="371.4" width="160" height="160" filter="url(#fg1)" transform="rotate(20 278.5 451.4)" opacity="0.6"/>
<rect x="198.5" y="371.4" width="160" height="160" filter="url(#fs1)" transform="rotate(50 278.5 451.4)" opacity="0.8"/>
<clipPath id="cd3_0"><ellipse cx="285.8" cy="451" rx="35" ry="26" transform="rotate(-13 285.8 451)" /></clipPath>
<g clip-path="url(#cd3_0)">
<rect x="198.5" y="371.4" width="160" height="160" filter="url(#fs2)" transform="rotate(33 278.5 451.4)" opacity="0.9"/>
<rect x="198.5" y="371.4" width="160" height="160" filter="url(#fn2)" transform="rotate(70 278.5 451.4)" opacity="0.6"/>
</g>
<g fill="none" stroke="#5a7a1c" stroke-width="0.6" opacity="0.6" stroke-dasharray="1.6 1.4 0.8 2" filter="url(#b0)"><ellipse cx="254.72" cy="482.87" rx="3.11" ry="3.67" transform="rotate(24 254.72 482.87)"/><ellipse cx="308.85" cy="484.32" rx="4.28" ry="4.35" transform="rotate(79 308.85 484.32)"/><ellipse cx="233.36" cy="462.48" rx="4.36" ry="3.68" transform="rotate(142 233.36 462.48)"/><ellipse cx="308.79" cy="482.42" rx="3.05" ry="3.26" transform="rotate(117 308.79 482.42)"/><ellipse cx="319.39" cy="419.06" rx="4.92" ry="5.58" transform="rotate(18 319.39 419.06)"/><ellipse cx="245.81" cy="480.82" rx="3.99" ry="2.84" transform="rotate(158 245.81 480.82)"/><ellipse cx="260.69" cy="422.82" rx="2.91" ry="2.17" transform="rotate(115 260.69 422.82)"/><ellipse cx="238.27" cy="438.57" rx="3.01" ry="2.9" transform="rotate(107 238.27 438.57)"/><ellipse cx="260.04" cy="427.68" rx="3.95" ry="4.47" transform="rotate(97 260.04 427.68)"/><ellipse cx="319.13" cy="422.56" rx="4.45" ry="3.37" transform="rotate(56 319.13 422.56)"/><ellipse cx="233.91" cy="436.98" rx="3.16" ry="3.35" transform="rotate(179 233.91 436.98)"/><ellipse cx="257.36" cy="481.29" rx="3.99" ry="3.9" transform="rotate(103 257.36 481.29)"/><ellipse cx="298.6" cy="427.58" rx="3.23" ry="2.8" transform="rotate(42 298.6 427.58)"/><ellipse cx="260.75" cy="428.97" rx="2.82" ry="2.95" transform="rotate(62 260.75 428.97)"/><ellipse cx="267.24" cy="473.03" rx="3.82" ry="2.88" transform="rotate(154 267.24 473.03)"/><ellipse cx="235.71" cy="471.84" rx="2.57" ry="2.33" transform="rotate(62 235.71 471.84)"/><ellipse cx="283.32" cy="478.71" rx="3.78" ry="4.1" transform="rotate(101 283.32 478.71)"/><ellipse cx="251.53" cy="453.2" rx="2.86" ry="3.33" transform="rotate(128 251.53 453.2)"/><ellipse cx="278.88" cy="420.43" rx="3.09" ry="2.61" transform="rotate(156 278.88 420.43)"/><ellipse cx="324.53" cy="476.66" rx="3.5" ry="3.64" transform="rotate(6 324.53 476.66)"/><ellipse cx="264.63" cy="430.53" rx="3.01" ry="3.29" transform="rotate(80 264.63 430.53)"/><ellipse cx="243.27" cy="456.38" rx="4.39" ry="4.63" transform="rotate(78 243.27 456.38)"/><ellipse cx="232.78" cy="434.7" rx="3.09" ry="2.57" transform="rotate(45 232.78 434.7)"/><ellipse cx="235.6" cy="481.74" rx="3.7" ry="3.47" transform="rotate(131 235.6 481.74)"/><ellipse cx="249.56" cy="424.27" rx="3.94" ry="3.33" transform="rotate(158 249.56 424.27)"/><ellipse cx="285.03" cy="484.04" rx="4.8" ry="4.93" transform="rotate(4 285.03 484.04)"/><ellipse cx="315.74" cy="471.78" rx="4.57" ry="4.69" transform="rotate(128 315.74 471.78)"/><ellipse cx="244.06" cy="425.44" rx="3.71" ry="3.9" transform="rotate(6 244.06 425.44)"/><ellipse cx="255.07" cy="424.12" rx="4.56" ry="5.14" transform="rotate(44 255.07 424.12)"/><ellipse cx="261.42" cy="480.04" rx="4.53" ry="5.06" transform="rotate(141 261.42 480.04)"/><ellipse cx="325.69" cy="450.7" rx="3.99" ry="3.96" transform="rotate(13 325.69 450.7)"/><ellipse cx="324.3" cy="421.44" rx="4.94" ry="3.89" transform="rotate(108 324.3 421.44)"/><ellipse cx="321.53" cy="474.58" rx="3.84" ry="3.74" transform="rotate(172 321.53 474.58)"/><ellipse cx="247.18" cy="424.88" rx="4.53" ry="4.2" transform="rotate(39 247.18 424.88)"/><ellipse cx="259.39" cy="424.69" rx="4.71" ry="5.13" transform="rotate(93 259.39 424.69)"/><ellipse cx="260.87" cy="476.18" rx="2.99" ry="3.39" transform="rotate(166 260.87 476.18)"/><ellipse cx="236.83" cy="468.84" rx="2.6" ry="2.7" transform="rotate(127 236.83 468.84)"/><ellipse cx="258.09" cy="435" rx="4.17" ry="3.86" transform="rotate(32 258.09 435)"/><ellipse cx="241.94" cy="472.54" rx="4.49" ry="4.8" transform="rotate(103 241.94 472.54)"/><ellipse cx="326.51" cy="419.08" rx="3.89" ry="3.71" transform="rotate(12 326.51 419.08)"/></g>
<g fill="none" stroke="#1622dc" stroke-width="0.8" opacity="0.8" stroke-dasharray="2 1 1 1.4 2.8 1" filter="url(#b0)"><ellipse cx="323.62" cy="454.01" rx="3.75" ry="3.52" transform="rotate(48 323.62 454.01)"/><ellipse cx="325.7" cy="444.39" rx="4.36" ry="4.46" transform="rotate(169 325.7 444.39)"/><ellipse cx="293.75" cy="419.92" rx="2.82" ry="2.15" transform="rotate(13 293.75 419.92)"/><ellipse cx="322.38" cy="443.2" rx="4.61" ry="3.9" transform="rotate(112 322.38 443.2)"/><ellipse cx="238.57" cy="468.89" rx="2.75" ry="2.32" transform="rotate(61 238.57 468.89)"/><ellipse cx="231.71" cy="475.11" rx="3.33" ry="2.47" transform="rotate(122 231.71 475.11)"/><ellipse cx="245.86" cy="421.98" rx="2.83" ry="3.32" transform="rotate(178 245.86 421.98)"/><ellipse cx="316.82" cy="426.84" rx="2.76" ry="2.1" transform="rotate(156 316.82 426.84)"/><ellipse cx="283.18" cy="480.12" rx="4.1" ry="3.2" transform="rotate(10 283.18 480.12)"/><ellipse cx="324.2" cy="421.9" rx="4.79" ry="3.45" transform="rotate(105 324.2 421.9)"/><ellipse cx="259.01" cy="439.6" rx="4.19" ry="3.5" transform="rotate(121 259.01 439.6)"/><ellipse cx="236.28" cy="428.11" rx="3.26" ry="3.05" transform="rotate(34 236.28 428.11)"/><ellipse cx="274.22" cy="473.74" rx="3.45" ry="3.67" transform="rotate(139 274.22 473.74)"/><ellipse cx="312.66" cy="476.19" rx="4.88" ry="3.73" transform="rotate(15 312.66 476.19)"/><ellipse cx="314.1" cy="479.08" rx="3.2" ry="3.69" transform="rotate(121 314.1 479.08)"/><ellipse cx="252.31" cy="443.06" rx="3.51" ry="2.66" transform="rotate(174 252.31 443.06)"/><ellipse cx="230.32" cy="459.32" rx="4.03" ry="4.74" transform="rotate(79 230.32 459.32)"/><ellipse cx="283.11" cy="483.33" rx="2.24" ry="2.61" transform="rotate(131 283.11 483.33)"/><ellipse cx="307.81" cy="427.05" rx="3.1" ry="2.88" transform="rotate(126 307.81 427.05)"/><ellipse cx="239.56" cy="436.91" rx="3.8" ry="3.21" transform="rotate(159 239.56 436.91)"/><ellipse cx="234.68" cy="463.6" rx="2.38" ry="2.14" transform="rotate(0 234.68 463.6)"/><ellipse cx="259.18" cy="483.92" rx="2.23" ry="2.35" transform="rotate(149 259.18 483.92)"/><ellipse cx="271.89" cy="423.05" rx="2.72" ry="2.64" transform="rotate(123 271.89 423.05)"/><ellipse cx="243.22" cy="438.68" rx="3.17" ry="3.55" transform="rotate(30 243.22 438.68)"/><ellipse cx="286.56" cy="424.55" rx="2.86" ry="2.36" transform="rotate(20 286.56 424.55)"/><ellipse cx="234.09" cy="478.07" rx="4.1" ry="3.11" transform="rotate(27 234.09 478.07)"/><ellipse cx="269.51" cy="430.73" rx="3.4" ry="3.09" transform="rotate(45 269.51 430.73)"/><ellipse cx="236.04" cy="464.24" rx="2.58" ry="3.04" transform="rotate(129 236.04 464.24)"/><ellipse cx="257.65" cy="465.6" rx="4.42" ry="4.82" transform="rotate(85 257.65 465.6)"/><ellipse cx="254.5" cy="418.51" rx="3.55" ry="3.5" transform="rotate(149 254.5 418.51)"/><ellipse cx="261.16" cy="427.4" rx="2.56" ry="2.7" transform="rotate(22 261.16 427.4)"/><ellipse cx="236.94" cy="480.35" rx="2.75" ry="2.35" transform="rotate(91 236.94 480.35)"/><ellipse cx="251.93" cy="477.06" rx="4.47" ry="4.67" transform="rotate(176 251.93 477.06)"/><ellipse cx="253.53" cy="475.09" rx="4.91" ry="5.7" transform="rotate(82 253.53 475.09)"/><ellipse cx="304.68" cy="429.6" rx="4.03" ry="2.97" transform="rotate(18 304.68 429.6)"/><ellipse cx="308.71" cy="465.47" rx="2.73" ry="3.23" transform="rotate(47 308.71 465.47)"/><ellipse cx="257.47" cy="440.51" rx="3.38" ry="3.64" transform="rotate(132 257.47 440.51)"/><ellipse cx="308.98" cy="430.45" rx="4.24" ry="4.77" transform="rotate(92 308.98 430.45)"/><ellipse cx="242.54" cy="478.95" rx="4.28" ry="4.24" transform="rotate(145 242.54 478.95)"/><ellipse cx="272.49" cy="478.07" rx="3.95" ry="3.84" transform="rotate(61 272.49 478.07)"/><ellipse cx="241.23" cy="479.24" rx="3.65" ry="4.1" transform="rotate(37 241.23 479.24)"/><ellipse cx="252.11" cy="471.2" rx="3.11" ry="2.52" transform="rotate(65 252.11 471.2)"/><ellipse cx="239.84" cy="456.04" rx="4.78" ry="4.23" transform="rotate(85 239.84 456.04)"/><ellipse cx="251.01" cy="436.08" rx="3.9" ry="4.5" transform="rotate(141 251.01 436.08)"/><ellipse cx="325.33" cy="437" rx="3.03" ry="2.89" transform="rotate(16 325.33 437)"/><ellipse cx="320.52" cy="435.9" rx="4.94" ry="4.69" transform="rotate(49 320.52 435.9)"/><ellipse cx="325.42" cy="483.03" rx="2.88" ry="2.87" transform="rotate(159 325.42 483.03)"/><ellipse cx="313.61" cy="480.59" rx="3.25" ry="3.75" transform="rotate(44 313.61 480.59)"/><ellipse cx="299.66" cy="482.72" rx="4.88" ry="4.7" transform="rotate(151 299.66 482.72)"/><ellipse cx="230.92" cy="431" rx="3.29" ry="2.31" transform="rotate(130 230.92 431)"/><ellipse cx="318.9" cy="423.56" rx="4.32" ry="3.55" transform="rotate(155 318.9 423.56)"/><ellipse cx="322.96" cy="447.76" rx="3.16" ry="3.08" transform="rotate(9 322.96 447.76)"/><ellipse cx="320.82" cy="447.18" rx="2.94" ry="2.19" transform="rotate(117 320.82 447.18)"/><ellipse cx="290.38" cy="423.78" rx="3.29" ry="3.41" transform="rotate(158 290.38 423.78)"/><ellipse cx="233.28" cy="438.41" rx="4.52" ry="5.17" transform="rotate(166 233.28 438.41)"/><ellipse cx="260.07" cy="480.1" rx="3.9" ry="3.68" transform="rotate(20 260.07 480.1)"/><ellipse cx="240.8" cy="474.88" rx="4.6" ry="4.17" transform="rotate(13 240.8 474.88)"/><ellipse cx="279.72" cy="475.92" rx="2.31" ry="2.36" transform="rotate(12 279.72 475.92)"/><ellipse cx="239.42" cy="479.14" rx="3.21" ry="2.63" transform="rotate(176 239.42 479.14)"/><ellipse cx="238.08" cy="455.1" rx="3.32" ry="3.07" transform="rotate(131 238.08 455.1)"/><ellipse cx="239.42" cy="455.36" rx="4.8" ry="5.61" transform="rotate(136 239.42 455.36)"/><ellipse cx="312.84" cy="427.96" rx="4.21" ry="3.24" transform="rotate(81 312.84 427.96)"/><ellipse cx="244.91" cy="472.54" rx="2.52" ry="2.44" transform="rotate(26 244.91 472.54)"/><ellipse cx="324.5" cy="483" rx="4.93" ry="3.5" transform="rotate(116 324.5 483)"/><ellipse cx="304.23" cy="427.37" rx="2.83" ry="2.84" transform="rotate(73 304.23 427.37)"/><ellipse cx="281.39" cy="482.75" rx="2.54" ry="2.56" transform="rotate(146 281.39 482.75)"/><ellipse cx="315.38" cy="465.43" rx="4.56" ry="4.48" transform="rotate(100 315.38 465.43)"/><ellipse cx="239.57" cy="418.31" rx="2.6" ry="2.44" transform="rotate(155 239.57 418.31)"/><ellipse cx="249.24" cy="435.54" rx="3.15" ry="3.53" transform="rotate(53 249.24 435.54)"/><ellipse cx="254.66" cy="457.46" rx="4.67" ry="4.86" transform="rotate(85 254.66 457.46)"/><ellipse cx="243.13" cy="464.53" rx="4.58" ry="3.93" transform="rotate(7 243.13 464.53)"/><ellipse cx="246" cy="447.3" rx="3.79" ry="3.47" transform="rotate(75 246 447.3)"/><ellipse cx="314.89" cy="436.47" rx="4.52" ry="4.31" transform="rotate(81 314.89 436.47)"/><ellipse cx="233.15" cy="437.02" rx="3.71" ry="2.7" transform="rotate(118 233.15 437.02)"/><ellipse cx="231.51" cy="422.3" rx="3.08" ry="2.17" transform="rotate(116 231.51 422.3)"/><ellipse cx="246.94" cy="421.55" rx="3.05" ry="2.91" transform="rotate(169 246.94 421.55)"/><ellipse cx="282.82" cy="423.25" rx="3.34" ry="3.32" transform="rotate(127 282.82 423.25)"/><ellipse cx="254.85" cy="419.47" rx="2.57" ry="2.18" transform="rotate(162 254.85 419.47)"/><ellipse cx="235.89" cy="453.12" rx="2.79" ry="2.6" transform="rotate(150 235.89 453.12)"/><ellipse cx="235.27" cy="460.36" rx="4.56" ry="4.58" transform="rotate(84 235.27 460.36)"/></g>
<ellipse cx="285.8" cy="450.2" rx="30.5" ry="21.8" transform="rotate(-13 285.8 450.2)" fill="#010104" stroke="#0e18d0" stroke-width="2.3" opacity="0.7" filter="url(#b1)"/>
<ellipse cx="285.8" cy="450.2" rx="30.5" ry="21.8" transform="rotate(-13 285.8 450.2)" fill="#010104" stroke="#2034ff" stroke-width="1.2" filter="url(#b0)"/>
</g>
<defs>
<filter id="ft1" x="0" y="0" width="100%" height="100%" color-interpolation-filters="sRGB"><feTurbulence type="turbulence" baseFrequency="0.3" numOctaves="1" seed="7"/><feColorMatrix values="0 0 0 0 0.74  0 0 0 0 0.36  0 0 0 0 0.48  -14 0 0 0 1.22"/></filter>
<filter id="ft1b" x="0" y="0" width="100%" height="100%" color-interpolation-filters="sRGB"><feTurbulence type="turbulence" baseFrequency="0.27" numOctaves="1" seed="19"/><feColorMatrix values="0 0 0 0 0.78  0 0 0 0 0.42  0 0 0 0 0.52  -14 0 0 0 1.1"/></filter>
<filter id="ft2" x="0" y="0" width="100%" height="100%" color-interpolation-filters="sRGB"><feTurbulence type="turbulence" baseFrequency="0.31" numOctaves="3" seed="8"/><feColorMatrix values="0 0 0 0 0.76  0 0 0 0 0.18  0 0 0 0 0.36  -6 0 0 0 1.75"/></filter>
<filter id="ft3" x="0" y="0" width="100%" height="100%" color-interpolation-filters="sRGB"><feTurbulence type="turbulence" baseFrequency="0.3" numOctaves="1" seed="17"/><feColorMatrix values="0 0 0 0 0.78  0 0 0 0 0.3  0 0 0 0 0.44  -14 0 0 0 1.22"/></filter>
<filter id="ft3b" x="0" y="0" width="100%" height="100%" color-interpolation-filters="sRGB"><feTurbulence type="turbulence" baseFrequency="0.33" numOctaves="1" seed="29"/><feColorMatrix values="0 0 0 0 0.8  0 0 0 0 0.36  0 0 0 0 0.48  -14 0 0 0 1.1"/></filter>
<filter id="ft4" x="0" y="0" width="100%" height="100%" color-interpolation-filters="sRGB"><feTurbulence type="turbulence" baseFrequency="0.3" numOctaves="2" seed="21"/><feColorMatrix values="0 0 0 0 0.66  0 0 0 0 0.1  0 0 0 0 0.28  -8 0 0 0 1.05"/></filter>
<filter id="ft5" x="0" y="0" width="100%" height="100%" color-interpolation-filters="sRGB"><feTurbulence type="fractalNoise" baseFrequency="0.45" numOctaves="2" seed="5"/><feColorMatrix values="0 0 0 0 0.74  0 0 0 0 0.20  0 0 0 0 0.34  0 14 0 0 -8.3"/></filter>
</defs>
<clipPath id="ct1"><rect x="9" y="601.2" width="96.4" height="66.4"/></clipPath>
<rect x="9" y="601.2" width="96.4" height="66.4" fill="#f9efec"/>
<g clip-path="url(#ct1)">
<rect x="-22.8" y="554.4" width="160" height="160" filter="url(#ft1)" transform="rotate(27 57.2 634.4)" opacity="0.55"/>
<rect x="-22.8" y="554.4" width="160" height="160" filter="url(#ft1b)" transform="rotate(68 57.2 634.4)" opacity="0.4"/>
<g fill="none" stroke="#a4506e" stroke-width="0.5" opacity="0.66" stroke-dasharray="3 0.8 1.5 0.6"><circle cx="57.0" cy="629.6" r="2.9"/><circle cx="85.6" cy="653.9" r="2.0"/><circle cx="100.9" cy="613.6" r="2.8"/><circle cx="73.5" cy="613.6" r="3.1"/><circle cx="74.1" cy="606.1" r="2.7"/><circle cx="74.3" cy="636.2" r="1.3"/><circle cx="72.5" cy="665.6" r="3.0"/><circle cx="37.7" cy="645.5" r="1.6"/><circle cx="59.4" cy="616.5" r="2.3"/><circle cx="24.9" cy="632.2" r="2.0"/><circle cx="34.7" cy="659.4" r="3.1"/><circle cx="66.4" cy="653.6" r="2.5"/><circle cx="81.9" cy="617.6" r="1.8"/><circle cx="38.8" cy="634.9" r="2.3"/><circle cx="97.0" cy="654.8" r="1.9"/><circle cx="45.1" cy="647.8" r="2.7"/><circle cx="14.0" cy="629.3" r="1.3"/><circle cx="75.8" cy="666.2" r="1.6"/><circle cx="64.3" cy="663.6" r="1.9"/><circle cx="13.8" cy="639.9" r="2.4"/><circle cx="72.5" cy="659.2" r="2.0"/><circle cx="68.3" cy="663.0" r="1.6"/><circle cx="14.4" cy="639.8" r="1.6"/><circle cx="87.9" cy="660.1" r="2.5"/><circle cx="72.9" cy="646.2" r="1.3"/><circle cx="11.4" cy="605.5" r="2.7"/><circle cx="92.8" cy="620.2" r="1.7"/><circle cx="56.1" cy="652.9" r="2.6"/><circle cx="11.0" cy="610.0" r="1.5"/><circle cx="102.8" cy="667.1" r="1.4"/><circle cx="87.4" cy="666.7" r="3.1"/><circle cx="32.9" cy="662.0" r="1.6"/><circle cx="9.1" cy="606.1" r="1.4"/><circle cx="101.4" cy="632.8" r="2.7"/><circle cx="41.3" cy="638.6" r="2.8"/><circle cx="34.2" cy="665.3" r="1.3"/><circle cx="86.7" cy="609.3" r="2.4"/><circle cx="36.1" cy="655.0" r="1.6"/><circle cx="45.8" cy="648.9" r="2.5"/><circle cx="40.8" cy="613.8" r="3.0"/><circle cx="73.2" cy="602.2" r="1.9"/><circle cx="41.5" cy="665.1" r="1.5"/><circle cx="86.4" cy="617.2" r="2.0"/><circle cx="27.7" cy="661.2" r="3.1"/><circle cx="47.2" cy="618.8" r="2.1"/><circle cx="99.0" cy="608.3" r="1.7"/><circle cx="24.7" cy="658.6" r="1.6"/><circle cx="57.6" cy="656.4" r="3.1"/><circle cx="49.5" cy="667.3" r="3.1"/><circle cx="101.3" cy="620.5" r="1.7"/><circle cx="78.6" cy="625.4" r="3.1"/><circle cx="41.1" cy="653.0" r="2.7"/><circle cx="97.5" cy="659.7" r="2.6"/><circle cx="61.1" cy="650.0" r="2.2"/><circle cx="75.6" cy="662.6" r="2.2"/><circle cx="81.0" cy="627.4" r="2.9"/><circle cx="72.8" cy="610.8" r="2.1"/><circle cx="62.6" cy="625.0" r="2.7"/><circle cx="56.4" cy="665.8" r="2.6"/><circle cx="24.1" cy="664.2" r="2.2"/><circle cx="60.9" cy="655.6" r="2.0"/><circle cx="46.5" cy="665.0" r="1.9"/><circle cx="97.6" cy="635.7" r="2.2"/><circle cx="18.4" cy="601.6" r="2.0"/><circle cx="60.0" cy="636.4" r="2.2"/><circle cx="77.9" cy="613.4" r="2.7"/><circle cx="30.3" cy="611.2" r="2.8"/><circle cx="31.9" cy="622.9" r="2.2"/><circle cx="62.2" cy="619.2" r="1.5"/><circle cx="30.1" cy="643.9" r="2.7"/><circle cx="60.8" cy="614.0" r="2.5"/><circle cx="80.5" cy="611.6" r="2.0"/><circle cx="102.2" cy="647.4" r="1.8"/><circle cx="33.8" cy="644.9" r="2.3"/><circle cx="47.2" cy="617.0" r="3.0"/><circle cx="25.6" cy="640.3" r="1.9"/><circle cx="63.7" cy="620.2" r="1.6"/><circle cx="62.6" cy="612.5" r="2.8"/><circle cx="102.0" cy="616.5" r="2.2"/><circle cx="53.7" cy="635.4" r="3.1"/><circle cx="23.0" cy="612.3" r="3.1"/><circle cx="96.0" cy="611.5" r="2.0"/><circle cx="81.4" cy="667.4" r="1.3"/><circle cx="37.8" cy="659.0" r="2.1"/><circle cx="46.1" cy="666.0" r="2.9"/><circle cx="27.1" cy="639.5" r="2.4"/><circle cx="29.6" cy="634.7" r="1.5"/><circle cx="82.0" cy="643.6" r="1.9"/><circle cx="41.5" cy="662.8" r="2.1"/><circle cx="37.2" cy="653.6" r="1.4"/><circle cx="77.9" cy="638.1" r="2.9"/><circle cx="48.3" cy="657.1" r="2.9"/><circle cx="58.6" cy="645.8" r="2.0"/><circle cx="52.4" cy="652.2" r="2.0"/><circle cx="94.3" cy="664.2" r="3.0"/><circle cx="9.3" cy="636.0" r="2.8"/><circle cx="77.0" cy="644.3" r="2.6"/><circle cx="24.5" cy="608.7" r="3.0"/><circle cx="13.0" cy="617.1" r="2.0"/><circle cx="27.1" cy="664.4" r="3.0"/><circle cx="49.6" cy="633.6" r="1.8"/><circle cx="25.6" cy="647.9" r="1.6"/><circle cx="63.3" cy="630.3" r="2.4"/><circle cx="19.8" cy="654.3" r="1.7"/><circle cx="25.6" cy="610.0" r="1.7"/><circle cx="77.9" cy="650.5" r="1.6"/><circle cx="31.2" cy="619.6" r="3.1"/><circle cx="48.9" cy="653.8" r="3.2"/><circle cx="38.8" cy="640.6" r="3.1"/><circle cx="64.2" cy="630.5" r="1.5"/><circle cx="57.1" cy="649.5" r="2.1"/><circle cx="86.2" cy="621.6" r="3.0"/><circle cx="91.3" cy="638.1" r="1.8"/><circle cx="76.3" cy="658.3" r="1.9"/><circle cx="21.0" cy="644.8" r="2.4"/><circle cx="51.9" cy="650.4" r="2.3"/><circle cx="101.6" cy="617.6" r="2.2"/><circle cx="28.9" cy="612.9" r="1.4"/><circle cx="44.3" cy="620.3" r="2.7"/><circle cx="83.5" cy="637.7" r="3.0"/><circle cx="27.4" cy="640.9" r="2.4"/><circle cx="59.1" cy="653.4" r="1.4"/><circle cx="39.2" cy="652.3" r="2.5"/><circle cx="71.0" cy="627.8" r="1.5"/><circle cx="61.0" cy="622.9" r="2.4"/><circle cx="11.3" cy="621.6" r="1.9"/><circle cx="80.4" cy="636.9" r="2.6"/><circle cx="79.6" cy="631.3" r="1.7"/><circle cx="74.4" cy="653.6" r="1.6"/><circle cx="13.4" cy="634.6" r="2.9"/><circle cx="60.2" cy="639.2" r="2.9"/><circle cx="46.7" cy="630.9" r="2.5"/><circle cx="39.5" cy="601.3" r="2.3"/><circle cx="81.1" cy="601.3" r="2.0"/><circle cx="90.9" cy="648.9" r="1.9"/><circle cx="92.4" cy="641.8" r="2.1"/><circle cx="70.8" cy="662.8" r="1.7"/><circle cx="56.8" cy="630.6" r="2.6"/><circle cx="41.9" cy="629.9" r="1.8"/><circle cx="10.5" cy="616.6" r="1.4"/><circle cx="88.6" cy="660.6" r="1.4"/><circle cx="97.5" cy="623.4" r="2.4"/><circle cx="86.4" cy="625.3" r="2.2"/><circle cx="101.7" cy="645.9" r="1.9"/><circle cx="90.2" cy="648.6" r="1.6"/><circle cx="20.9" cy="663.1" r="2.1"/><circle cx="73.5" cy="656.5" r="2.0"/><circle cx="94.3" cy="622.6" r="3.0"/><circle cx="10.4" cy="625.8" r="2.5"/><circle cx="29.7" cy="632.5" r="2.2"/><circle cx="55.7" cy="611.1" r="2.5"/><circle cx="27.4" cy="651.8" r="3.2"/><circle cx="59.1" cy="639.7" r="2.1"/><circle cx="83.3" cy="659.4" r="2.2"/><circle cx="83.4" cy="655.0" r="3.0"/><circle cx="30.1" cy="601.9" r="1.6"/><circle cx="23.7" cy="667.5" r="3.0"/><circle cx="13.8" cy="663.7" r="2.2"/><circle cx="99.6" cy="635.6" r="2.1"/><circle cx="21.3" cy="628.7" r="1.8"/><circle cx="9.6" cy="640.9" r="1.8"/><circle cx="68.0" cy="637.9" r="3.0"/><circle cx="53.3" cy="645.8" r="1.7"/><circle cx="74.4" cy="664.8" r="2.1"/><circle cx="33.9" cy="626.5" r="1.8"/><circle cx="18.2" cy="666.0" r="1.3"/><circle cx="31.8" cy="608.4" r="1.5"/><circle cx="82.6" cy="618.0" r="2.3"/><circle cx="22.1" cy="615.9" r="3.1"/><circle cx="43.4" cy="657.7" r="2.6"/><circle cx="97.9" cy="607.9" r="2.8"/><circle cx="66.1" cy="615.3" r="3.0"/><circle cx="59.6" cy="603.9" r="2.9"/><circle cx="100.0" cy="666.1" r="1.8"/><circle cx="77.6" cy="635.0" r="3.1"/><circle cx="87.2" cy="616.9" r="2.7"/><circle cx="77.4" cy="647.6" r="2.6"/><circle cx="103.4" cy="659.8" r="2.2"/><circle cx="99.7" cy="643.1" r="1.5"/><circle cx="101.3" cy="609.4" r="3.0"/><circle cx="77.1" cy="620.0" r="3.1"/><circle cx="73.0" cy="631.6" r="2.4"/><circle cx="22.2" cy="667.1" r="1.4"/><circle cx="41.1" cy="624.2" r="2.4"/><circle cx="102.4" cy="613.9" r="2.5"/><circle cx="44.0" cy="665.3" r="3.1"/><circle cx="24.8" cy="653.7" r="2.0"/><circle cx="82.2" cy="636.7" r="2.2"/><circle cx="53.5" cy="624.9" r="1.3"/><circle cx="84.0" cy="628.1" r="2.7"/><circle cx="66.9" cy="649.9" r="3.2"/><circle cx="29.1" cy="613.2" r="3.0"/><circle cx="11.8" cy="656.2" r="2.0"/><circle cx="56.6" cy="651.2" r="2.7"/><circle cx="84.1" cy="603.5" r="3.0"/><circle cx="32.3" cy="655.9" r="2.3"/><circle cx="25.7" cy="620.1" r="2.4"/><circle cx="78.5" cy="632.8" r="1.8"/><circle cx="50.6" cy="643.2" r="2.2"/><circle cx="45.4" cy="601.3" r="1.9"/><circle cx="74.4" cy="661.8" r="3.2"/><circle cx="71.4" cy="649.8" r="1.7"/><circle cx="82.5" cy="622.9" r="2.6"/><circle cx="85.0" cy="641.8" r="2.2"/><circle cx="75.8" cy="626.1" r="2.8"/><circle cx="74.7" cy="657.6" r="2.2"/><circle cx="60.5" cy="658.5" r="2.3"/><circle cx="94.1" cy="649.3" r="3.2"/><circle cx="70.8" cy="610.9" r="1.6"/><circle cx="63.0" cy="635.2" r="2.8"/><circle cx="79.7" cy="663.3" r="2.1"/><circle cx="21.5" cy="603.6" r="1.9"/><circle cx="87.3" cy="659.4" r="1.3"/><circle cx="62.5" cy="607.6" r="2.9"/><circle cx="80.8" cy="618.2" r="2.8"/><circle cx="9.4" cy="623.8" r="2.3"/><circle cx="49.3" cy="638.3" r="2.2"/><circle cx="27.8" cy="666.7" r="1.6"/><circle cx="16.1" cy="646.6" r="2.7"/><circle cx="21.8" cy="610.9" r="2.8"/><circle cx="77.3" cy="602.6" r="1.6"/><circle cx="29.3" cy="611.1" r="1.7"/><circle cx="99.2" cy="654.7" r="1.8"/><circle cx="9.2" cy="625.2" r="3.1"/><circle cx="26.4" cy="656.4" r="2.5"/><circle cx="73.3" cy="635.1" r="2.1"/><circle cx="67.9" cy="609.8" r="2.2"/><circle cx="89.1" cy="610.2" r="2.0"/><circle cx="13.3" cy="655.5" r="2.5"/><circle cx="69.8" cy="634.5" r="1.7"/><circle cx="100.2" cy="618.4" r="1.5"/><circle cx="71.9" cy="626.2" r="2.4"/><circle cx="10.3" cy="628.4" r="3.0"/><circle cx="76.8" cy="604.6" r="1.4"/><circle cx="69.8" cy="616.2" r="1.3"/><circle cx="92.4" cy="659.2" r="3.0"/><circle cx="35.7" cy="613.2" r="3.1"/><circle cx="9.4" cy="625.2" r="2.0"/><circle cx="55.8" cy="657.1" r="2.4"/><circle cx="44.6" cy="655.9" r="2.3"/><circle cx="68.1" cy="643.5" r="3.1"/><circle cx="34.9" cy="665.6" r="1.6"/><circle cx="66.8" cy="631.9" r="1.5"/><circle cx="30.9" cy="665.4" r="1.9"/><circle cx="70.9" cy="622.5" r="1.9"/><circle cx="104.2" cy="619.3" r="2.0"/><circle cx="86.3" cy="624.1" r="2.9"/><circle cx="79.3" cy="626.7" r="2.2"/><circle cx="38.7" cy="641.2" r="2.7"/><circle cx="92.4" cy="662.9" r="2.8"/><circle cx="21.4" cy="655.4" r="3.1"/><circle cx="31.8" cy="631.8" r="3.0"/><circle cx="86.0" cy="611.4" r="2.5"/><circle cx="79.4" cy="607.8" r="1.7"/><circle cx="95.3" cy="626.8" r="2.9"/><circle cx="86.5" cy="650.1" r="3.2"/><circle cx="23.3" cy="646.6" r="1.6"/><circle cx="21.3" cy="644.6" r="2.7"/><circle cx="60.1" cy="613.8" r="2.1"/><circle cx="18.2" cy="646.6" r="2.6"/><circle cx="55.9" cy="661.9" r="1.4"/><circle cx="51.3" cy="630.8" r="2.0"/><circle cx="33.7" cy="603.1" r="1.7"/><circle cx="82.3" cy="661.3" r="1.3"/><circle cx="22.8" cy="602.7" r="2.0"/><circle cx="36.1" cy="663.2" r="3.0"/><circle cx="51.8" cy="635.6" r="2.6"/><circle cx="59.1" cy="657.9" r="2.7"/><circle cx="57.8" cy="665.4" r="2.7"/><circle cx="97.8" cy="644.7" r="2.2"/><circle cx="33.7" cy="640.3" r="1.9"/><circle cx="18.9" cy="658.6" r="2.5"/><circle cx="13.5" cy="635.5" r="2.6"/><circle cx="16.7" cy="655.8" r="2.5"/><circle cx="43.3" cy="623.3" r="3.0"/><circle cx="49.2" cy="604.2" r="2.2"/><circle cx="48.3" cy="634.1" r="1.7"/><circle cx="46.6" cy="603.4" r="2.8"/><circle cx="89.2" cy="659.8" r="2.0"/><circle cx="65.9" cy="615.7" r="2.5"/><circle cx="84.3" cy="640.0" r="1.4"/><circle cx="85.9" cy="617.3" r="3.0"/><circle cx="104.2" cy="619.1" r="1.6"/><circle cx="91.3" cy="616.2" r="1.3"/><circle cx="94.0" cy="660.0" r="2.9"/><circle cx="79.8" cy="603.0" r="2.4"/><circle cx="94.6" cy="663.1" r="2.9"/><circle cx="17.8" cy="661.2" r="2.8"/><circle cx="30.0" cy="633.4" r="3.0"/><circle cx="76.1" cy="641.3" r="1.6"/><circle cx="57.2" cy="640.1" r="2.8"/><circle cx="36.7" cy="605.9" r="3.2"/><circle cx="92.6" cy="625.6" r="2.9"/><circle cx="75.9" cy="662.4" r="2.5"/><circle cx="16.1" cy="602.2" r="1.6"/><circle cx="98.2" cy="606.5" r="2.4"/><circle cx="81.2" cy="622.2" r="2.1"/><circle cx="83.2" cy="663.2" r="2.8"/><circle cx="34.6" cy="632.3" r="2.2"/><circle cx="93.2" cy="658.1" r="2.9"/></g>
<path d="M66 603 C70 601.5 76 603 77.5 608 C77 613 73 616.5 69 615 C66 613 65 607 66 603Z" fill="#fbf3ef" stroke="#5a2040" stroke-width="0.6"/>
<path d="M86 604 C89 602.5 93 604 94 608 C93.5 612 90 614.5 87 613.5 C85 611 85 607 86 604Z" fill="#fbf3ef" stroke="#5a2040" stroke-width="0.6"/>
<ellipse cx="28" cy="612" rx="17" ry="9" fill="#faf1ee" opacity="0.7" filter="url(#b2)"/>
<ellipse cx="98" cy="608" rx="7" ry="6" fill="#faf1ee" opacity="0.7" filter="url(#b2)"/>
<path d="M44.500 632 C46 630.5 49 631 51 633 C54.5 637.5 58.5 643 59.5 648 C60 652 58 655 54.5 655 C50 655 46 651.5 44.5 647 C43.5 642 43.5 636 44.5 632Z" fill="#fbf3ef" stroke="#3d1233" stroke-width="1.0"/>
<path d="M85 616.5 C88 615 92 617 93 620.5 C91 626.5 86 635 82 641 C79 646 76 650.5 72 651.5 C68 652.5 64 651 63.5 648 C64.5 644 69 641.5 72 637.5 C77 631 81 623.5 85 616.5Z" fill="#fbf3ef" stroke="#3d1233" stroke-width="1.0"/>
<path d="M45.500 620 C47.5 618.5 50.5 620.5 53.5 625.2 C52 627 48 625.5 45.5 620Z" fill="#f2c0c6" stroke="#8c2346" stroke-width="0.9"/>
<ellipse cx="70.6" cy="625.4" rx="3" ry="3.2" fill="#fbf3ef" stroke="#2f1838" stroke-width="1.0"/>
<path d="M84 615.5 C87 614 91.500 615.5 93.500 619.500" fill="none" stroke="#2d0f2a" stroke-width="1.6"/>
<path d="M59.5 648 C60.5 650 62 650 63.500 648" fill="none" stroke="#3d1233" stroke-width="1.3"/>
<path d="M14 646.5 C17 645.5 20 647.500 21.500 651 C23 654.500 23.5 658 22.500 660.500 M13.500 650 C16 652 18 655.500 18.500 659" fill="none" stroke="#cc4466" stroke-width="1.4" stroke-linecap="round"/>
<path d="M23.600 622.800 l2 1.400 l-1.800 1.200z" fill="#c62f52" stroke="#c62f52" stroke-width="0.6"/>
</g>
<clipPath id="ct2"><rect x="117.6" y="601" width="96.8" height="66.7"/></clipPath>
<rect x="117.6" y="601" width="96.8" height="66.7" fill="#f1cdd4"/>
<g clip-path="url(#ct2)">
<rect x="86" y="554.35" width="160" height="160" filter="url(#ft2)" transform="rotate(31 166 634.35)" opacity="1"/>
<rect x="86" y="554.35" width="160" height="160" filter="url(#ft4)" transform="rotate(70 166 634.35)" opacity="0.55"/>
<g fill="none" stroke="#b21e4c" stroke-width="0.8" opacity="0.8" stroke-dasharray="3 0.6 1.5 0.5"><circle cx="197.2" cy="607.5" r="2.2"/><circle cx="156.9" cy="637.7" r="1.9"/><circle cx="156.8" cy="646.5" r="2.5"/><circle cx="134.2" cy="652.2" r="2.2"/><circle cx="163.8" cy="647.2" r="2.4"/><circle cx="184.5" cy="633.4" r="2.5"/><circle cx="192.4" cy="632.8" r="1.4"/><circle cx="145.9" cy="618.7" r="1.8"/><circle cx="206.4" cy="608.8" r="2.4"/><circle cx="172.3" cy="619.8" r="2.3"/><circle cx="153.1" cy="616.1" r="2.2"/><circle cx="182.0" cy="652.9" r="1.9"/><circle cx="172.4" cy="655.5" r="2.5"/><circle cx="140.1" cy="631.4" r="1.5"/><circle cx="122.6" cy="609.9" r="2.4"/><circle cx="154.9" cy="622.8" r="2.5"/><circle cx="199.4" cy="663.9" r="1.5"/><circle cx="127.1" cy="606.3" r="1.8"/><circle cx="194.3" cy="657.8" r="2.2"/><circle cx="198.3" cy="641.2" r="1.4"/><circle cx="123.1" cy="609.4" r="1.4"/><circle cx="180.5" cy="637.7" r="2.1"/><circle cx="161.5" cy="648.3" r="2.2"/><circle cx="185.8" cy="626.5" r="2.1"/><circle cx="118.1" cy="663.3" r="1.9"/><circle cx="135.0" cy="650.3" r="1.5"/><circle cx="141.3" cy="613.9" r="1.2"/><circle cx="156.0" cy="627.0" r="1.9"/><circle cx="181.5" cy="657.3" r="1.7"/><circle cx="131.8" cy="661.1" r="2.0"/><circle cx="199.1" cy="637.2" r="2.6"/><circle cx="123.0" cy="612.6" r="2.6"/><circle cx="120.3" cy="637.9" r="1.9"/><circle cx="192.9" cy="643.0" r="2.1"/><circle cx="179.9" cy="601.2" r="2.0"/><circle cx="151.7" cy="640.1" r="1.5"/><circle cx="139.5" cy="620.4" r="2.8"/><circle cx="170.4" cy="613.4" r="2.5"/><circle cx="209.9" cy="628.3" r="1.6"/><circle cx="134.0" cy="617.2" r="2.3"/><circle cx="156.0" cy="667.1" r="2.3"/><circle cx="139.6" cy="641.7" r="1.8"/><circle cx="132.4" cy="628.4" r="2.2"/><circle cx="214.4" cy="634.9" r="2.5"/><circle cx="213.0" cy="632.2" r="1.7"/><circle cx="185.1" cy="654.2" r="1.4"/><circle cx="178.2" cy="616.7" r="1.9"/><circle cx="187.5" cy="622.4" r="2.4"/><circle cx="170.7" cy="631.5" r="2.0"/><circle cx="203.4" cy="616.4" r="1.4"/><circle cx="147.2" cy="633.7" r="2.2"/><circle cx="147.9" cy="643.2" r="2.6"/><circle cx="187.0" cy="633.1" r="1.6"/><circle cx="159.5" cy="661.7" r="1.8"/><circle cx="164.3" cy="644.3" r="1.7"/><circle cx="153.9" cy="633.5" r="2.5"/><circle cx="177.3" cy="622.1" r="2.8"/><circle cx="191.4" cy="637.2" r="1.7"/><circle cx="147.0" cy="622.9" r="1.5"/><circle cx="161.6" cy="640.3" r="2.1"/><circle cx="165.6" cy="663.7" r="1.6"/><circle cx="152.7" cy="605.7" r="2.4"/><circle cx="140.1" cy="620.5" r="1.7"/><circle cx="191.2" cy="625.2" r="2.6"/><circle cx="123.9" cy="642.4" r="2.5"/><circle cx="166.6" cy="646.8" r="2.7"/><circle cx="172.3" cy="618.5" r="2.5"/><circle cx="143.9" cy="635.5" r="2.5"/><circle cx="164.1" cy="641.0" r="1.8"/><circle cx="203.1" cy="644.4" r="1.5"/><circle cx="199.3" cy="620.9" r="2.7"/><circle cx="180.9" cy="661.7" r="2.3"/><circle cx="202.9" cy="618.9" r="2.5"/><circle cx="185.8" cy="652.3" r="2.5"/><circle cx="125.9" cy="616.5" r="2.8"/><circle cx="187.2" cy="609.4" r="1.7"/><circle cx="175.5" cy="643.7" r="2.7"/><circle cx="118.8" cy="613.7" r="1.6"/><circle cx="176.1" cy="665.7" r="2.8"/><circle cx="159.1" cy="656.7" r="1.7"/><circle cx="181.1" cy="607.8" r="2.1"/><circle cx="188.5" cy="631.4" r="2.6"/><circle cx="202.7" cy="641.4" r="1.5"/><circle cx="157.0" cy="649.1" r="1.7"/><circle cx="165.1" cy="646.6" r="1.3"/><circle cx="187.4" cy="620.0" r="2.0"/><circle cx="119.4" cy="612.2" r="1.7"/><circle cx="184.6" cy="632.4" r="1.4"/><circle cx="165.4" cy="654.1" r="1.3"/><circle cx="134.6" cy="633.6" r="1.7"/><circle cx="155.1" cy="665.9" r="1.7"/><circle cx="203.1" cy="667.5" r="2.3"/><circle cx="159.2" cy="650.9" r="2.3"/><circle cx="122.2" cy="603.4" r="2.2"/><circle cx="173.6" cy="659.2" r="1.4"/><circle cx="200.6" cy="605.0" r="2.6"/><circle cx="161.8" cy="621.8" r="2.2"/><circle cx="165.4" cy="619.6" r="1.3"/><circle cx="149.5" cy="601.4" r="1.7"/><circle cx="205.8" cy="607.3" r="2.0"/><circle cx="168.6" cy="667.5" r="2.6"/><circle cx="187.4" cy="640.0" r="2.0"/><circle cx="180.5" cy="646.2" r="1.7"/><circle cx="172.9" cy="606.4" r="1.3"/><circle cx="140.4" cy="606.1" r="2.7"/><circle cx="204.4" cy="640.5" r="2.3"/><circle cx="192.5" cy="619.1" r="1.9"/><circle cx="204.3" cy="602.9" r="1.6"/><circle cx="129.8" cy="648.8" r="1.5"/><circle cx="129.5" cy="636.5" r="2.1"/><circle cx="158.6" cy="625.8" r="1.4"/><circle cx="188.3" cy="646.9" r="2.1"/><circle cx="140.9" cy="616.2" r="1.2"/><circle cx="169.1" cy="611.2" r="1.3"/><circle cx="207.6" cy="619.8" r="2.1"/><circle cx="144.8" cy="622.2" r="2.2"/><circle cx="186.1" cy="635.2" r="1.8"/><circle cx="205.1" cy="655.5" r="2.7"/><circle cx="168.6" cy="627.3" r="1.4"/><circle cx="210.7" cy="664.4" r="2.3"/><circle cx="138.6" cy="662.2" r="2.4"/><circle cx="129.3" cy="625.8" r="1.8"/><circle cx="180.5" cy="639.0" r="2.2"/><circle cx="161.6" cy="608.1" r="2.5"/><circle cx="159.0" cy="624.7" r="2.3"/><circle cx="169.0" cy="629.3" r="1.5"/><circle cx="204.3" cy="646.7" r="2.4"/><circle cx="186.6" cy="625.3" r="1.9"/><circle cx="176.2" cy="625.6" r="2.2"/><circle cx="199.6" cy="607.6" r="1.8"/><circle cx="175.1" cy="633.4" r="2.4"/><circle cx="153.4" cy="613.2" r="2.4"/><circle cx="153.5" cy="618.3" r="2.8"/><circle cx="125.3" cy="623.0" r="2.2"/><circle cx="194.6" cy="648.8" r="1.7"/><circle cx="126.4" cy="622.2" r="1.8"/><circle cx="118.9" cy="630.0" r="2.3"/><circle cx="195.0" cy="621.1" r="1.9"/><circle cx="150.2" cy="643.6" r="1.2"/><circle cx="120.5" cy="651.0" r="2.4"/><circle cx="207.6" cy="626.1" r="1.6"/><circle cx="158.9" cy="652.8" r="2.4"/><circle cx="153.5" cy="612.8" r="2.8"/><circle cx="119.0" cy="642.1" r="1.8"/><circle cx="214.1" cy="621.8" r="2.3"/><circle cx="140.8" cy="638.8" r="1.8"/><circle cx="132.6" cy="611.5" r="1.4"/><circle cx="140.8" cy="629.3" r="1.4"/><circle cx="173.9" cy="609.8" r="1.8"/><circle cx="195.4" cy="605.6" r="1.4"/><circle cx="132.1" cy="608.0" r="1.9"/><circle cx="193.3" cy="603.6" r="2.7"/><circle cx="195.4" cy="640.7" r="1.3"/><circle cx="190.2" cy="656.8" r="2.7"/><circle cx="153.9" cy="646.0" r="1.4"/><circle cx="182.0" cy="631.4" r="2.6"/><circle cx="125.3" cy="638.1" r="1.3"/><circle cx="192.0" cy="660.6" r="1.7"/><circle cx="209.6" cy="633.0" r="1.4"/><circle cx="210.4" cy="647.2" r="1.6"/><circle cx="157.9" cy="601.7" r="2.2"/><circle cx="192.2" cy="624.5" r="2.6"/><circle cx="191.3" cy="650.7" r="2.2"/><circle cx="164.1" cy="631.4" r="2.4"/><circle cx="175.9" cy="613.9" r="2.0"/><circle cx="163.5" cy="610.8" r="1.6"/><circle cx="120.5" cy="615.4" r="1.9"/><circle cx="203.9" cy="615.8" r="1.5"/><circle cx="168.8" cy="616.1" r="1.9"/><circle cx="163.0" cy="616.2" r="1.3"/><circle cx="214.1" cy="642.1" r="2.0"/><circle cx="148.4" cy="611.8" r="2.5"/><circle cx="199.5" cy="648.5" r="2.1"/><circle cx="212.4" cy="606.6" r="2.5"/><circle cx="149.5" cy="644.1" r="1.2"/><circle cx="209.3" cy="611.8" r="2.7"/><circle cx="136.2" cy="660.5" r="1.2"/><circle cx="203.8" cy="663.4" r="1.5"/><circle cx="209.5" cy="622.7" r="1.8"/><circle cx="186.8" cy="654.0" r="2.3"/><circle cx="148.4" cy="633.7" r="2.7"/><circle cx="177.8" cy="640.8" r="2.4"/><circle cx="202.6" cy="633.6" r="1.5"/><circle cx="161.0" cy="663.1" r="2.0"/><circle cx="164.9" cy="622.1" r="1.8"/><circle cx="163.5" cy="627.2" r="1.3"/><circle cx="145.1" cy="609.2" r="1.5"/><circle cx="149.1" cy="616.7" r="1.3"/><circle cx="177.5" cy="645.1" r="2.8"/><circle cx="148.8" cy="639.9" r="1.3"/><circle cx="119.3" cy="662.7" r="1.6"/><circle cx="130.1" cy="630.0" r="2.5"/><circle cx="209.8" cy="665.9" r="2.0"/><circle cx="171.0" cy="617.7" r="1.9"/><circle cx="204.1" cy="605.1" r="2.2"/><circle cx="189.2" cy="665.8" r="2.2"/><circle cx="194.2" cy="661.0" r="1.3"/><circle cx="202.9" cy="620.6" r="1.4"/><circle cx="132.8" cy="652.7" r="1.7"/><circle cx="212.3" cy="614.5" r="2.4"/><circle cx="211.8" cy="619.3" r="1.2"/><circle cx="126.9" cy="655.5" r="2.7"/><circle cx="201.7" cy="646.0" r="1.8"/><circle cx="186.9" cy="647.7" r="1.3"/><circle cx="179.6" cy="634.5" r="1.9"/><circle cx="126.6" cy="654.8" r="1.6"/><circle cx="193.6" cy="659.2" r="2.1"/><circle cx="208.1" cy="648.9" r="1.4"/><circle cx="192.5" cy="634.1" r="2.4"/><circle cx="201.7" cy="627.3" r="2.2"/><circle cx="184.6" cy="626.6" r="1.4"/><circle cx="197.2" cy="648.0" r="2.6"/><circle cx="202.2" cy="606.3" r="1.9"/><circle cx="178.9" cy="616.9" r="1.7"/><circle cx="189.0" cy="606.9" r="2.0"/><circle cx="208.7" cy="636.7" r="2.4"/><circle cx="117.9" cy="615.4" r="1.5"/><circle cx="207.2" cy="637.2" r="1.3"/><circle cx="165.5" cy="641.4" r="2.5"/><circle cx="166.4" cy="601.6" r="2.3"/><circle cx="174.9" cy="646.9" r="2.6"/><circle cx="209.6" cy="659.6" r="1.5"/><circle cx="153.4" cy="629.9" r="2.6"/><circle cx="195.4" cy="628.7" r="1.5"/><circle cx="119.7" cy="626.9" r="2.7"/><circle cx="172.6" cy="603.6" r="2.3"/><circle cx="134.4" cy="638.8" r="1.4"/><circle cx="131.3" cy="621.5" r="2.1"/><circle cx="187.2" cy="632.7" r="2.2"/><circle cx="201.1" cy="606.0" r="1.3"/><circle cx="186.2" cy="625.9" r="1.7"/><circle cx="192.2" cy="663.4" r="2.2"/><circle cx="141.9" cy="655.5" r="2.4"/><circle cx="127.4" cy="628.2" r="2.2"/><circle cx="155.7" cy="655.1" r="2.2"/><circle cx="189.7" cy="603.1" r="1.6"/><circle cx="134.0" cy="622.9" r="1.5"/><circle cx="186.1" cy="628.6" r="1.4"/><circle cx="164.7" cy="654.5" r="2.6"/><circle cx="154.1" cy="622.5" r="2.2"/><circle cx="195.0" cy="637.6" r="1.4"/><circle cx="184.7" cy="647.3" r="1.2"/><circle cx="168.5" cy="638.9" r="2.1"/><circle cx="132.0" cy="608.4" r="2.5"/><circle cx="189.8" cy="614.2" r="1.6"/><circle cx="213.6" cy="643.3" r="2.1"/><circle cx="178.9" cy="658.0" r="2.2"/><circle cx="184.9" cy="613.2" r="1.9"/><circle cx="189.4" cy="608.6" r="2.5"/><circle cx="171.8" cy="650.2" r="1.8"/><circle cx="204.5" cy="644.1" r="2.3"/><circle cx="163.0" cy="648.1" r="1.6"/><circle cx="175.9" cy="633.6" r="1.9"/><circle cx="123.7" cy="661.3" r="2.7"/><circle cx="212.5" cy="653.8" r="2.7"/><circle cx="141.2" cy="607.8" r="2.0"/><circle cx="122.7" cy="607.1" r="1.5"/><circle cx="156.3" cy="618.5" r="2.3"/><circle cx="202.6" cy="606.9" r="2.1"/><circle cx="199.4" cy="654.3" r="1.9"/><circle cx="166.7" cy="622.2" r="2.3"/><circle cx="123.3" cy="616.4" r="1.9"/><circle cx="175.5" cy="641.9" r="2.0"/><circle cx="141.2" cy="604.8" r="2.4"/><circle cx="203.4" cy="636.9" r="2.4"/><circle cx="151.6" cy="637.8" r="1.5"/><circle cx="167.6" cy="663.3" r="2.1"/><circle cx="177.2" cy="646.8" r="2.0"/><circle cx="191.3" cy="625.9" r="2.8"/><circle cx="188.0" cy="643.2" r="1.6"/><circle cx="129.4" cy="640.9" r="1.7"/><circle cx="123.5" cy="664.3" r="2.3"/><circle cx="188.5" cy="637.5" r="2.0"/><circle cx="169.0" cy="666.5" r="2.2"/><circle cx="185.1" cy="651.5" r="1.8"/><circle cx="119.0" cy="605.9" r="1.4"/><circle cx="162.4" cy="657.1" r="2.0"/><circle cx="128.9" cy="664.6" r="1.7"/><circle cx="166.3" cy="638.0" r="2.3"/><circle cx="137.3" cy="616.8" r="1.7"/><circle cx="196.0" cy="607.6" r="2.5"/><circle cx="193.0" cy="645.6" r="1.3"/><circle cx="205.2" cy="604.9" r="2.3"/><circle cx="161.3" cy="635.4" r="2.3"/><circle cx="162.9" cy="643.2" r="2.1"/><circle cx="209.8" cy="624.7" r="2.0"/><circle cx="147.7" cy="637.7" r="2.4"/><circle cx="127.4" cy="643.4" r="1.6"/><circle cx="148.6" cy="609.5" r="2.1"/><circle cx="137.8" cy="636.0" r="2.2"/><circle cx="182.4" cy="654.7" r="2.3"/><circle cx="129.0" cy="660.5" r="1.7"/><circle cx="161.5" cy="627.1" r="2.0"/><circle cx="152.1" cy="665.9" r="2.6"/><circle cx="210.6" cy="641.3" r="2.4"/><circle cx="181.9" cy="665.5" r="2.5"/><circle cx="166.5" cy="612.0" r="2.3"/><circle cx="196.3" cy="635.1" r="2.8"/><circle cx="163.9" cy="649.7" r="2.1"/><circle cx="146.6" cy="617.7" r="1.5"/><circle cx="145.6" cy="616.6" r="2.3"/><circle cx="160.5" cy="617.3" r="1.6"/><circle cx="180.7" cy="623.6" r="1.9"/><circle cx="195.8" cy="662.0" r="2.0"/><circle cx="195.1" cy="656.2" r="2.7"/><circle cx="208.4" cy="647.2" r="2.0"/><circle cx="173.7" cy="639.6" r="1.8"/><circle cx="180.3" cy="632.2" r="2.7"/><circle cx="170.5" cy="631.2" r="2.5"/><circle cx="186.0" cy="621.0" r="2.2"/><circle cx="201.2" cy="651.6" r="2.4"/><circle cx="149.7" cy="664.5" r="1.8"/><circle cx="171.8" cy="611.2" r="1.7"/><circle cx="199.4" cy="641.8" r="2.4"/><circle cx="134.6" cy="627.0" r="1.2"/><circle cx="186.7" cy="633.0" r="1.4"/><circle cx="132.1" cy="620.9" r="2.3"/><circle cx="186.9" cy="615.9" r="2.5"/><circle cx="172.3" cy="623.3" r="2.6"/><circle cx="168.0" cy="603.3" r="1.3"/><circle cx="195.6" cy="628.4" r="1.9"/><circle cx="187.5" cy="622.0" r="2.7"/><circle cx="139.9" cy="638.7" r="2.7"/><circle cx="201.6" cy="661.3" r="1.5"/><circle cx="149.7" cy="636.5" r="2.4"/><circle cx="151.9" cy="631.1" r="2.2"/><circle cx="127.5" cy="646.4" r="2.3"/><circle cx="179.9" cy="611.1" r="2.5"/><circle cx="129.1" cy="603.2" r="1.8"/><circle cx="137.2" cy="617.9" r="2.0"/><circle cx="140.4" cy="654.5" r="2.2"/><circle cx="184.2" cy="638.4" r="1.5"/><circle cx="140.2" cy="607.3" r="1.5"/><circle cx="136.2" cy="652.4" r="1.6"/><circle cx="207.0" cy="617.7" r="1.4"/><circle cx="152.1" cy="666.1" r="2.0"/><circle cx="192.8" cy="638.3" r="2.5"/><circle cx="191.2" cy="651.6" r="2.4"/><circle cx="167.5" cy="608.2" r="2.4"/><circle cx="119.6" cy="623.5" r="2.2"/><circle cx="144.9" cy="653.7" r="1.8"/><circle cx="157.8" cy="622.5" r="1.2"/><circle cx="201.3" cy="602.4" r="1.7"/><circle cx="138.0" cy="628.8" r="1.6"/><circle cx="134.4" cy="626.3" r="1.7"/><circle cx="142.1" cy="603.7" r="1.4"/><circle cx="176.0" cy="641.2" r="2.7"/><circle cx="148.2" cy="660.9" r="1.5"/><circle cx="180.6" cy="639.7" r="2.1"/><circle cx="141.9" cy="618.1" r="2.1"/><circle cx="125.0" cy="662.7" r="1.3"/><circle cx="159.2" cy="632.9" r="2.7"/><circle cx="172.9" cy="664.9" r="1.8"/><circle cx="149.5" cy="642.3" r="2.6"/><circle cx="188.6" cy="633.2" r="2.5"/><circle cx="122.6" cy="656.1" r="2.5"/><circle cx="123.6" cy="602.5" r="2.1"/><circle cx="193.5" cy="604.6" r="1.6"/><circle cx="160.9" cy="658.8" r="2.2"/><circle cx="121.1" cy="628.5" r="2.3"/><circle cx="165.8" cy="629.1" r="2.0"/><circle cx="173.6" cy="632.8" r="2.5"/><circle cx="197.1" cy="612.9" r="1.5"/><circle cx="154.7" cy="641.9" r="1.5"/><circle cx="154.7" cy="635.2" r="1.6"/><circle cx="167.5" cy="654.3" r="2.3"/><circle cx="146.7" cy="632.8" r="2.7"/><circle cx="119.9" cy="624.9" r="1.3"/><circle cx="167.9" cy="638.2" r="1.9"/><circle cx="185.9" cy="647.8" r="1.7"/><circle cx="154.3" cy="607.2" r="1.8"/><circle cx="194.3" cy="660.9" r="2.5"/><circle cx="151.1" cy="609.6" r="1.7"/><circle cx="171.4" cy="661.6" r="1.8"/><circle cx="127.3" cy="634.0" r="2.7"/><circle cx="182.4" cy="644.2" r="1.5"/><circle cx="189.2" cy="636.5" r="1.9"/><circle cx="176.6" cy="612.6" r="2.4"/><circle cx="154.3" cy="626.9" r="1.8"/><circle cx="201.7" cy="651.5" r="1.8"/></g>
<ellipse cx="190" cy="618" rx="16" ry="9" fill="#f7e3e6" opacity="0.45" filter="url(#b2)"/>
<ellipse cx="172" cy="655" rx="18" ry="8" fill="#f7e3e6" opacity="0.45" filter="url(#b2)"/>
<path d="M126 600 C130 608 136 616 141 622 C150 618 166 617 178 622 C182 628 172 634 160 637 C152 642 146 647 140 649 C134 651 128 652 122 654" fill="none" stroke="#a8204c" stroke-width="9" opacity="0.35" filter="url(#b2)"/>
<path d="M123.5 600 C127 606 132 611.500 135.500 616.500 C139 615.5 145.500 616 148.500 618.800 C153 617 160 615.800 168 617" fill="none" stroke="#5658a6" stroke-width="4" opacity="0.55" filter="url(#b2)"/>
<path d="M124 601 C127.500 606.500 132 611 135.500 616 M148 618.500 C153 617 158 616.500 163 616.800" fill="none" stroke="#5a4e98" stroke-width="1.6" opacity="0.4" filter="url(#b1)"/>
<path d="M133.500 626 C132 630 136 634 142 636 M129 652 C134 651 139.500 649 144 646.500" fill="none" stroke="#7a3a80" stroke-width="3" opacity="0.45" filter="url(#b2)"/>
<path d="M155 622 C162 619.5 172 620 177.5 622 C181 624 180.5 628 177 630.5 C172 633.5 164 634.5 158 637 C153 639.5 148 644 144.5 646 C143 645 144 641 146.5 637.5 C150 632 151 626 155 622Z" fill="none" stroke="#8e1c4a" stroke-width="4.6" opacity="0.8" filter="url(#b1)"/>
<path d="M155 622 C162 619.5 172 620 177.5 622 C181 624 180.5 628 177 630.5 C172 633.5 164 634.5 158 637 C153 639.5 148 644 144.5 646 C143 645 144 641 146.5 637.5 C150 632 151 626 155 622Z" fill="#f9eaea" stroke="#a51c48" stroke-width="1.1"/>
<path d="M136.5 620.5 C138.5 618.5 143 618.5 144.5 620.5 C145.5 623 144.5 626.5 142.5 627.5 C140 628.5 137 627.5 136 625.5 C135.5 624 135.5 622 136.5 620.5Z" fill="none" stroke="#7c2a6a" stroke-width="4.2" opacity="0.6" filter="url(#b1)"/>
<path d="M136.5 620.5 C138.5 618.5 143 618.5 144.5 620.5 C145.5 623 144.5 626.5 142.5 627.5 C140 628.5 137 627.5 136 625.5 C135.5 624 135.5 622 136.5 620.5Z" fill="#f6dde1" stroke="#a51c48" stroke-width="1.7"/>
<path d="M116 648.5 C121 646.5 127 647.5 129.5 650.5 C130.5 654 128 658 124 660 C121 661.5 118.5 663 116 664.5Z" fill="#f9eaea" stroke="#a51c48" stroke-width="2.2"/>
<path d="M205.5 630 C208 628 212.5 629 213.5 632.5 C214.5 638 213 645 209.5 650 C206 654.5 200 657.5 194.5 657.5 C191.5 657 190 655 191.5 653.5 C196 652 200.5 649 203 645 C205 641 203.5 634 205.5 630Z" fill="none" stroke="#8a1a40" stroke-width="3.4" opacity="0.55" filter="url(#b1)"/>
<path d="M205.5 630 C208 628 212.5 629 213.5 632.5 C214.5 638 213 645 209.5 650 C206 654.5 200 657.5 194.5 657.5 C191.5 657 190 655 191.5 653.5 C196 652 200.5 649 203 645 C205 641 203.5 634 205.5 630Z" fill="#f9eaea" stroke="#861a3c" stroke-width="1.3"/>
<path d="M116 600 H128 C129 604 127 608.5 123 610 C121 610.8 118.5 610.5 116 610Z" fill="#f9eaea" stroke="#a51c48" stroke-width="1.2"/>
<path d="M209 600 H216 V613 C212 611 209.5 606 209 600Z" fill="#f9eaea" opacity="0.9"/>
</g>
<clipPath id="ct3"><rect x="229" y="601" width="96.4" height="66.7"/></clipPath>
<rect x="229" y="601" width="96.4" height="66.7" fill="#f9ede8"/>
<g clip-path="url(#ct3)">
<rect x="197.2" y="554.35" width="160" height="160" filter="url(#ft3)" transform="rotate(27 277.2 634.35)" opacity="0.7"/>
<rect x="197.2" y="554.35" width="160" height="160" filter="url(#ft3b)" transform="rotate(62 277.2 634.35)" opacity="0.5"/>
<g fill="none" stroke="#b84a66" stroke-width="0.5" opacity="0.75" stroke-dasharray="2.5 1 1.2 0.8"><circle cx="253.1" cy="623.8" r="2.8"/><circle cx="315.6" cy="667.1" r="2.7"/><circle cx="275.0" cy="666.9" r="3.0"/><circle cx="310.3" cy="650.7" r="3.0"/><circle cx="267.4" cy="647.3" r="3.1"/><circle cx="292.0" cy="659.7" r="3.0"/><circle cx="243.4" cy="611.6" r="2.7"/><circle cx="322.4" cy="640.0" r="2.8"/><circle cx="299.8" cy="631.9" r="2.8"/><circle cx="302.2" cy="665.6" r="2.7"/><circle cx="229.3" cy="646.2" r="2.8"/><circle cx="299.2" cy="620.4" r="2.0"/><circle cx="264.2" cy="659.3" r="2.6"/><circle cx="322.7" cy="608.9" r="2.3"/><circle cx="311.6" cy="628.6" r="3.1"/><circle cx="282.8" cy="637.2" r="2.6"/><circle cx="275.5" cy="651.9" r="2.4"/><circle cx="301.0" cy="608.0" r="1.6"/><circle cx="236.4" cy="647.4" r="3.0"/><circle cx="299.9" cy="649.1" r="2.3"/><circle cx="297.0" cy="626.8" r="2.2"/><circle cx="319.5" cy="644.1" r="2.0"/><circle cx="261.1" cy="622.7" r="2.2"/><circle cx="242.2" cy="634.7" r="1.4"/><circle cx="243.8" cy="624.8" r="2.7"/><circle cx="265.0" cy="640.9" r="2.5"/><circle cx="239.0" cy="607.7" r="2.0"/><circle cx="313.5" cy="618.3" r="3.1"/><circle cx="255.5" cy="648.9" r="1.8"/><circle cx="287.2" cy="613.0" r="2.0"/><circle cx="295.9" cy="662.7" r="2.1"/><circle cx="250.1" cy="662.7" r="1.4"/><circle cx="254.9" cy="658.8" r="2.6"/><circle cx="313.8" cy="657.4" r="2.0"/><circle cx="311.9" cy="624.5" r="1.9"/><circle cx="299.7" cy="660.9" r="2.0"/><circle cx="266.4" cy="638.1" r="2.0"/><circle cx="275.4" cy="652.8" r="1.9"/><circle cx="319.5" cy="632.4" r="3.1"/><circle cx="293.4" cy="627.6" r="1.7"/><circle cx="238.7" cy="605.7" r="2.4"/><circle cx="276.9" cy="634.5" r="2.1"/><circle cx="321.9" cy="646.1" r="2.5"/><circle cx="308.3" cy="612.5" r="3.1"/><circle cx="288.2" cy="632.2" r="1.5"/><circle cx="311.0" cy="656.2" r="1.5"/><circle cx="230.6" cy="656.8" r="2.5"/><circle cx="247.2" cy="629.8" r="2.5"/><circle cx="312.5" cy="646.7" r="1.7"/><circle cx="250.3" cy="637.6" r="1.3"/><circle cx="286.5" cy="666.4" r="1.5"/><circle cx="307.6" cy="641.5" r="3.0"/><circle cx="284.3" cy="649.5" r="2.3"/><circle cx="242.0" cy="654.9" r="2.5"/><circle cx="288.9" cy="631.0" r="2.2"/><circle cx="245.3" cy="601.2" r="1.6"/><circle cx="256.8" cy="640.1" r="2.3"/><circle cx="310.1" cy="630.4" r="2.2"/><circle cx="262.4" cy="637.9" r="3.1"/><circle cx="311.6" cy="663.9" r="2.1"/><circle cx="301.9" cy="638.7" r="1.7"/><circle cx="249.4" cy="634.1" r="2.7"/><circle cx="281.5" cy="612.7" r="2.5"/><circle cx="280.0" cy="660.6" r="3.0"/><circle cx="236.1" cy="601.4" r="2.2"/><circle cx="229.4" cy="667.7" r="3.1"/><circle cx="275.1" cy="644.4" r="2.0"/><circle cx="246.6" cy="640.7" r="1.8"/><circle cx="305.0" cy="647.9" r="2.3"/><circle cx="307.7" cy="630.7" r="1.7"/><circle cx="286.9" cy="666.7" r="2.5"/><circle cx="272.3" cy="632.9" r="2.1"/><circle cx="250.9" cy="658.3" r="2.7"/><circle cx="278.1" cy="666.5" r="2.3"/><circle cx="268.7" cy="644.9" r="1.9"/><circle cx="230.1" cy="619.9" r="2.7"/><circle cx="238.7" cy="645.4" r="2.7"/><circle cx="318.1" cy="618.1" r="2.5"/><circle cx="315.6" cy="619.4" r="3.1"/><circle cx="296.5" cy="602.0" r="3.1"/><circle cx="298.8" cy="643.2" r="1.4"/><circle cx="308.6" cy="631.8" r="3.1"/><circle cx="313.6" cy="654.0" r="2.7"/><circle cx="229.2" cy="633.7" r="2.5"/><circle cx="310.7" cy="637.7" r="1.4"/><circle cx="290.8" cy="607.9" r="2.5"/><circle cx="232.8" cy="634.9" r="2.8"/><circle cx="258.6" cy="623.0" r="1.5"/><circle cx="265.1" cy="637.9" r="2.6"/><circle cx="289.2" cy="609.7" r="2.9"/><circle cx="270.3" cy="648.0" r="3.2"/><circle cx="255.2" cy="655.5" r="1.7"/><circle cx="241.9" cy="607.1" r="2.5"/><circle cx="298.4" cy="615.2" r="2.0"/><circle cx="269.5" cy="655.9" r="1.3"/><circle cx="263.6" cy="605.8" r="1.8"/><circle cx="317.8" cy="633.4" r="2.2"/><circle cx="293.1" cy="625.3" r="1.4"/><circle cx="242.0" cy="649.3" r="2.4"/><circle cx="305.0" cy="628.0" r="1.9"/><circle cx="250.8" cy="656.8" r="2.3"/><circle cx="254.1" cy="628.4" r="1.8"/><circle cx="305.3" cy="656.5" r="2.1"/><circle cx="262.1" cy="633.8" r="2.1"/><circle cx="268.5" cy="628.3" r="1.9"/><circle cx="283.2" cy="634.0" r="1.6"/><circle cx="285.0" cy="658.0" r="3.1"/><circle cx="249.4" cy="634.7" r="2.0"/><circle cx="269.0" cy="646.5" r="2.3"/><circle cx="246.7" cy="607.9" r="2.0"/><circle cx="284.5" cy="608.3" r="3.1"/><circle cx="237.0" cy="609.7" r="2.8"/><circle cx="245.1" cy="631.8" r="1.5"/><circle cx="266.2" cy="637.8" r="1.7"/><circle cx="300.3" cy="641.8" r="1.5"/><circle cx="293.7" cy="667.1" r="1.9"/><circle cx="234.9" cy="657.5" r="1.4"/><circle cx="316.9" cy="604.8" r="1.3"/><circle cx="265.5" cy="662.4" r="3.0"/><circle cx="258.6" cy="622.5" r="1.5"/><circle cx="311.0" cy="641.7" r="2.6"/><circle cx="238.0" cy="630.4" r="2.8"/><circle cx="247.9" cy="657.7" r="2.5"/><circle cx="256.9" cy="637.5" r="1.7"/><circle cx="278.8" cy="620.0" r="2.8"/><circle cx="249.2" cy="612.9" r="1.9"/><circle cx="260.3" cy="608.8" r="2.6"/><circle cx="259.9" cy="620.7" r="1.6"/><circle cx="312.3" cy="660.3" r="1.6"/><circle cx="252.0" cy="649.4" r="2.6"/><circle cx="280.4" cy="607.2" r="1.6"/><circle cx="305.9" cy="655.6" r="2.5"/><circle cx="294.5" cy="612.8" r="2.7"/><circle cx="263.0" cy="650.4" r="2.3"/><circle cx="229.2" cy="624.5" r="2.3"/><circle cx="320.7" cy="625.4" r="2.3"/><circle cx="260.2" cy="666.6" r="2.9"/><circle cx="305.5" cy="627.8" r="2.2"/><circle cx="254.9" cy="662.0" r="1.4"/><circle cx="236.0" cy="608.9" r="2.8"/><circle cx="324.0" cy="629.2" r="2.2"/><circle cx="239.5" cy="609.4" r="2.7"/><circle cx="233.4" cy="639.6" r="2.2"/><circle cx="318.3" cy="630.5" r="1.6"/><circle cx="305.7" cy="629.4" r="2.6"/><circle cx="291.4" cy="602.0" r="2.0"/><circle cx="230.3" cy="643.4" r="2.5"/><circle cx="241.3" cy="622.9" r="2.6"/><circle cx="294.2" cy="643.9" r="1.5"/><circle cx="320.8" cy="620.6" r="2.5"/><circle cx="247.3" cy="612.5" r="3.0"/><circle cx="289.0" cy="637.8" r="2.6"/><circle cx="314.0" cy="649.4" r="1.5"/><circle cx="231.5" cy="632.9" r="2.2"/><circle cx="318.5" cy="622.7" r="2.9"/><circle cx="324.0" cy="633.3" r="1.8"/><circle cx="315.5" cy="638.5" r="2.0"/><circle cx="287.0" cy="646.8" r="2.7"/><circle cx="232.3" cy="636.5" r="1.3"/><circle cx="318.8" cy="608.2" r="2.5"/><circle cx="241.3" cy="624.4" r="2.8"/><circle cx="254.3" cy="644.4" r="2.2"/><circle cx="240.6" cy="619.0" r="1.4"/><circle cx="242.8" cy="629.6" r="3.0"/><circle cx="263.2" cy="609.9" r="3.1"/><circle cx="259.7" cy="664.1" r="1.3"/><circle cx="320.7" cy="612.8" r="3.2"/><circle cx="293.5" cy="625.3" r="2.8"/><circle cx="266.7" cy="630.8" r="2.7"/><circle cx="315.3" cy="620.4" r="2.6"/><circle cx="296.2" cy="657.2" r="2.3"/><circle cx="265.3" cy="605.8" r="1.7"/><circle cx="272.6" cy="632.1" r="2.9"/><circle cx="279.7" cy="636.9" r="2.5"/><circle cx="252.1" cy="654.4" r="1.4"/><circle cx="256.6" cy="628.1" r="2.0"/><circle cx="240.2" cy="602.7" r="1.6"/><circle cx="323.0" cy="622.4" r="1.9"/><circle cx="230.8" cy="667.4" r="2.5"/><circle cx="229.5" cy="621.6" r="2.8"/><circle cx="274.7" cy="651.1" r="2.5"/><circle cx="317.8" cy="650.4" r="2.9"/><circle cx="287.2" cy="638.1" r="2.7"/><circle cx="288.8" cy="609.8" r="3.0"/><circle cx="254.0" cy="645.8" r="2.6"/><circle cx="298.2" cy="615.7" r="2.3"/><circle cx="319.6" cy="659.6" r="2.9"/><circle cx="270.1" cy="637.4" r="2.2"/><circle cx="244.4" cy="636.5" r="2.3"/><circle cx="250.5" cy="659.5" r="2.3"/><circle cx="294.6" cy="618.9" r="2.7"/><circle cx="242.5" cy="635.3" r="1.6"/><circle cx="238.0" cy="606.0" r="3.2"/><circle cx="304.4" cy="645.4" r="2.9"/><circle cx="291.4" cy="642.7" r="1.7"/><circle cx="240.9" cy="663.9" r="2.3"/><circle cx="254.8" cy="645.2" r="3.0"/><circle cx="256.6" cy="615.4" r="2.3"/><circle cx="259.0" cy="643.6" r="2.0"/><circle cx="283.9" cy="626.6" r="2.3"/><circle cx="302.6" cy="654.4" r="1.5"/><circle cx="320.9" cy="633.9" r="2.8"/><circle cx="317.7" cy="615.6" r="1.9"/><circle cx="279.0" cy="658.1" r="2.1"/><circle cx="261.3" cy="638.9" r="1.4"/><circle cx="301.3" cy="636.3" r="1.5"/><circle cx="307.9" cy="605.5" r="1.6"/><circle cx="296.8" cy="615.3" r="1.4"/><circle cx="287.7" cy="612.6" r="2.7"/><circle cx="308.4" cy="614.9" r="3.0"/><circle cx="270.0" cy="607.5" r="1.9"/><circle cx="235.0" cy="646.1" r="1.4"/><circle cx="282.3" cy="626.3" r="2.4"/><circle cx="324.7" cy="606.4" r="2.9"/><circle cx="323.9" cy="646.7" r="2.3"/><circle cx="317.5" cy="613.9" r="2.9"/><circle cx="284.0" cy="660.1" r="1.9"/><circle cx="229.6" cy="643.0" r="2.7"/><circle cx="236.8" cy="608.5" r="2.7"/><circle cx="276.2" cy="614.7" r="2.3"/><circle cx="255.8" cy="637.4" r="1.8"/><circle cx="250.9" cy="611.2" r="3.1"/><circle cx="268.5" cy="660.3" r="3.2"/><circle cx="309.4" cy="651.2" r="3.2"/><circle cx="300.8" cy="624.9" r="3.0"/><circle cx="312.1" cy="601.4" r="1.7"/><circle cx="295.8" cy="646.4" r="3.1"/><circle cx="314.2" cy="610.6" r="2.7"/><circle cx="319.1" cy="623.0" r="1.9"/><circle cx="289.6" cy="653.3" r="1.8"/><circle cx="306.6" cy="634.9" r="2.0"/><circle cx="262.0" cy="622.0" r="2.9"/><circle cx="275.1" cy="637.4" r="2.8"/><circle cx="296.6" cy="650.9" r="1.5"/><circle cx="256.3" cy="623.7" r="1.8"/><circle cx="245.7" cy="661.5" r="2.3"/><circle cx="316.8" cy="605.8" r="3.2"/><circle cx="257.8" cy="628.7" r="1.7"/><circle cx="229.7" cy="661.1" r="2.0"/><circle cx="265.6" cy="602.1" r="2.7"/><circle cx="250.1" cy="662.8" r="2.8"/><circle cx="235.3" cy="624.9" r="1.6"/><circle cx="278.3" cy="649.2" r="3.1"/><circle cx="291.5" cy="616.2" r="1.5"/><circle cx="242.3" cy="645.6" r="1.8"/><circle cx="306.6" cy="617.7" r="2.4"/><circle cx="320.8" cy="642.9" r="1.9"/><circle cx="311.5" cy="663.7" r="3.0"/><circle cx="318.3" cy="612.0" r="2.2"/><circle cx="307.1" cy="604.4" r="3.1"/><circle cx="237.6" cy="655.4" r="1.9"/><circle cx="295.0" cy="614.1" r="2.8"/><circle cx="273.7" cy="605.6" r="1.7"/><circle cx="308.6" cy="628.4" r="2.3"/><circle cx="273.8" cy="656.3" r="2.2"/><circle cx="246.4" cy="609.6" r="2.1"/><circle cx="309.9" cy="605.8" r="1.5"/><circle cx="252.7" cy="651.5" r="1.6"/><circle cx="291.1" cy="662.4" r="2.0"/><circle cx="269.4" cy="666.0" r="2.8"/><circle cx="286.8" cy="636.4" r="3.1"/><circle cx="269.2" cy="608.4" r="3.0"/><circle cx="251.6" cy="664.5" r="1.9"/><circle cx="254.5" cy="604.9" r="2.5"/><circle cx="277.6" cy="643.4" r="1.8"/><circle cx="282.7" cy="646.4" r="2.4"/><circle cx="310.0" cy="636.1" r="1.7"/><circle cx="290.1" cy="608.8" r="1.3"/><circle cx="302.2" cy="633.6" r="1.6"/><circle cx="270.6" cy="661.6" r="2.0"/><circle cx="257.1" cy="662.9" r="2.5"/><circle cx="268.8" cy="635.7" r="2.3"/><circle cx="300.0" cy="628.6" r="2.2"/><circle cx="249.4" cy="606.2" r="2.0"/><circle cx="248.4" cy="646.6" r="3.2"/><circle cx="309.4" cy="644.2" r="3.1"/><circle cx="306.9" cy="634.5" r="1.6"/><circle cx="250.3" cy="613.5" r="1.4"/><circle cx="259.1" cy="645.5" r="2.9"/><circle cx="232.4" cy="653.0" r="3.2"/><circle cx="294.1" cy="620.2" r="3.0"/><circle cx="252.2" cy="643.2" r="2.2"/><circle cx="271.5" cy="633.0" r="2.3"/><circle cx="273.1" cy="642.0" r="2.9"/><circle cx="307.4" cy="663.6" r="1.4"/><circle cx="265.0" cy="619.1" r="1.9"/><circle cx="317.9" cy="634.9" r="1.9"/><circle cx="324.4" cy="604.8" r="1.7"/><circle cx="229.0" cy="641.8" r="2.4"/><circle cx="262.1" cy="616.6" r="2.5"/><circle cx="230.0" cy="626.2" r="1.4"/><circle cx="312.8" cy="625.4" r="2.5"/><circle cx="307.7" cy="612.3" r="2.5"/><circle cx="286.6" cy="622.8" r="2.9"/><circle cx="245.1" cy="666.8" r="2.8"/><circle cx="274.7" cy="622.4" r="2.2"/><circle cx="291.0" cy="649.5" r="2.7"/><circle cx="257.0" cy="620.7" r="3.1"/><circle cx="263.2" cy="604.4" r="2.2"/><circle cx="278.9" cy="611.2" r="2.4"/></g>
<rect x="229" y="601" width="40" height="67" fill="#c8405f" opacity="0.08"/>
<ellipse cx="273.500" cy="648.2" rx="12.6" ry="9.6" transform="rotate(24 273.5 648.2)" fill="#faf0e9" stroke="#8a2a4c" stroke-width="1.15"/>
<path d="M261.500 646 C263.500 653 270 659 279 660.500" fill="none" stroke="#3f7088" stroke-width="1.0" opacity="0.85"/>
<path d="M286.600 600 C287 608 288.500 614 293.500 618 C298 619 303 612 306.500 600Z" fill="#faf0e9" stroke="#8a2244" stroke-width="1.1"/>
<path d="M280.300 609.500 C281.500 608 283 610 282.800 614 C282.600 617.500 281.800 620 280.800 620.500 C279.800 618 279.800 612 280.300 609.500Z" fill="#d8506e" stroke="#b02d50" stroke-width="0.8"/>
<path d="M326.5 624 C322.4 632 322.4 651 326.5 660Z" fill="#c42148"/>
<path d="M276 632 l2.600 0.800 M253 640.500 l2 1 M254 666 l2.400 0.600" fill="none" stroke="#3f88a0" stroke-width="1.0" opacity="0.85"/>
</g>
<rect x="0" y="0" width="520" height="1.2" fill="#000"/>
<rect x="0" y="0" width="1.8" height="737" fill="#3a3a3a"/>
<rect x="518.2" y="0" width="1.8" height="737" fill="#3a3a3a"/>
<rect x="0" y="734.8" width="520" height="2.2" fill="#3a3a3a"/>
</svg>
</body></html>
